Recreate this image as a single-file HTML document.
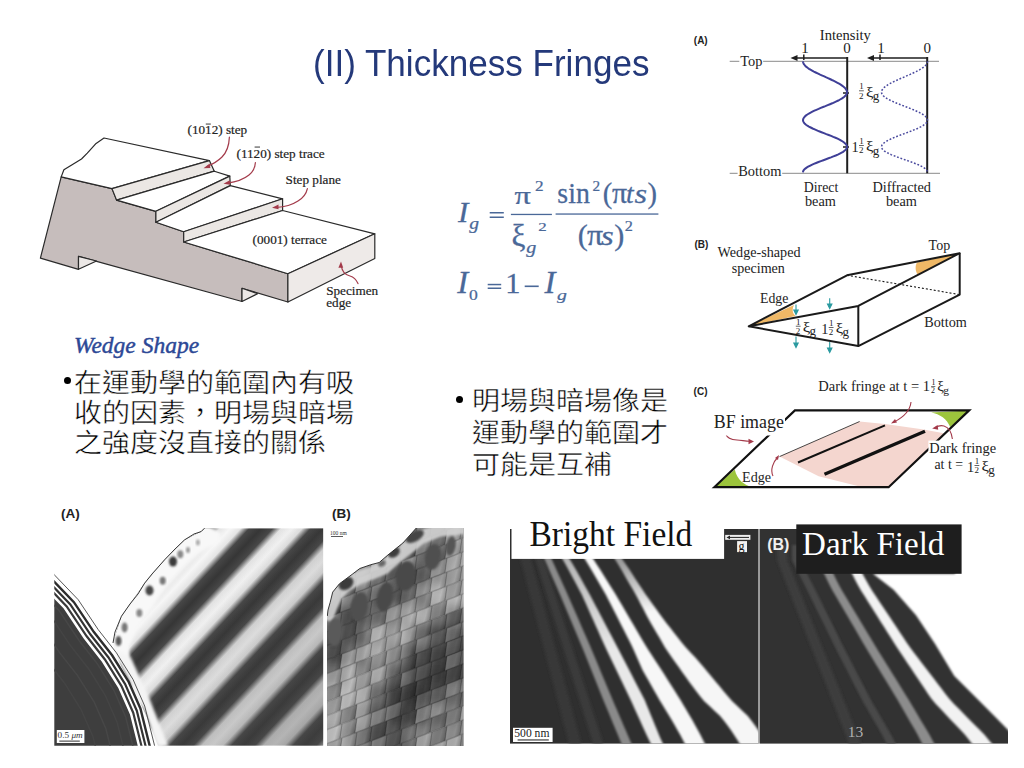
<!DOCTYPE html>
<html lang="zh-TW">
<head>
<meta charset="utf-8">
<style>
html,body{margin:0;padding:0;background:#fff;}
body{width:1024px;height:768px;overflow:hidden;position:relative;font-family:"Liberation Serif",serif;}
svg{position:absolute;left:0;top:0;}
.t{position:absolute;white-space:nowrap;line-height:1;}
.title{font-family:"Liberation Sans",sans-serif;color:#24397a;font-size:36px;}
.cjk{font-size:28px;color:#000;-webkit-text-stroke:0.5px #fff;transform:translateY(2.7px) scaleY(0.92);}
</style>
</head>
<body>
<svg width="1024" height="768" viewBox="0 0 1024 768" font-family="Liberation Serif">
<!-- ===== Stepped specimen figure ===== -->
<g id="steps" stroke="#2a2a2a" stroke-width="1.2" stroke-linejoin="round">
  <!-- gray front face -->
  <path fill="#c6bdbc" d="M61.2,176.9 L112,188.6 L116.6,200.1 L155.9,211.3 L155.9,222.3 L183.7,231.8 L183.7,242 L287.9,273.7 L287.9,302 L242,288.3 L242,301.5 L78.5,256.4 L78.5,269.3 L40.4,258.1 Z"/>
  <!-- notches light -->
  <path fill="#ece8e6" d="M78.5,256.4 L78.5,269.3 L96.5,261 Z"/>
  <path fill="#ece8e6" d="M242,288.3 L242,301.5 L257.6,293.7 Z"/>
  <!-- top surface -->
  <path fill="#fff" d="M61.2,176.9 L63.9,169.8 L71.7,164.9 L81.5,159 L87.3,153.2 L96.1,143.4 L104,138 L209.4,160.6 L112,188.6 Z"/>
  <!-- step 1 band -->
  <path fill="#ebe7e4" d="M112,188.6 L209.4,160.6 L214.3,171.2 L116.6,200.1 Z"/>
  <!-- terrace 2 -->
  <path fill="#fff" d="M116.6,200.1 L214.3,171.2 L229.8,176.1 L155.9,211.3 Z"/>
  <!-- step 2 band -->
  <path fill="#ebe7e4" d="M155.9,211.3 L229.8,176.1 L230.3,185.6 L155.9,222.3 Z"/>
  <!-- terrace 3 -->
  <path fill="#fff" d="M155.9,222.3 L230.3,185.6 L282.6,198.8 L183.7,231.8 Z"/>
  <!-- step 3 band -->
  <path fill="#ebe7e4" d="M183.7,231.8 L282.6,198.8 L282.6,210.5 L183.7,242 Z"/>
  <!-- terrace 4 -->
  <path fill="#fff" d="M183.7,242 L282.6,210.5 L374.8,233.8 L287.9,273.7 Z"/>
  <!-- right face -->
  <path fill="#eeeae8" d="M287.9,273.7 L374.8,233.8 L374.8,258.5 L287.9,302 Z"/>
</g>
<g fill="none" stroke="#a33a4a" stroke-width="1.2" stroke-linecap="round">
  <path d="M229.4,137.1 C229,146 227,152 222,157 C218,161 213,164 207,166.5"/>
  <path d="M255.4,162.5 C255,168 253,172 249,175 C244,179 236,182 227.5,183.2"/>
  <path d="M307.4,188.6 C306,195 303,198 298,201 C292,205 284,207 276,207.5"/>
  <path d="M358,283.6 C356,279 354,277 350,276 C345,275 342,271 341.2,265.5"/>
</g>
<g fill="#a33a4a">
  <path d="M203.5,168.2 l6.2,-4.6 l0.6,4.4 z"/>
  <path d="M223.5,183.8 l6.3,-3.6 l0.3,4.6 z"/>
  <path d="M272,207.8 l6.5,-3.2 l0,4.6 z"/>
  <path d="M341,261.5 l-2.6,6.2 l4.8,0 z"/>
</g>
<g font-size="13.2" fill="#222" stroke="#222" stroke-width="0.2">
  <text x="187.5" y="134">(1012) step</text><rect x="205.8" y="123.6" width="5" height="0.9" stroke="none"/>
  <text x="236.5" y="157.5">(1120) step trace</text><rect x="254.6" y="146.6" width="5.4" height="0.9" stroke="none"/>
  <text x="285.6" y="183.5">Step plane</text>
  <text x="252.6" y="243.5">(0001) terrace</text>
  <text x="326.2" y="294.7">Specimen</text>
  <text x="326.2" y="307">edge</text>
</g>

<!-- ===== Equation ===== -->
<g fill="#4a6898" stroke="#4a6898" stroke-width="0.25">
<text transform="matrix(1.1143 0 0 1.0466 457.90 221.90)" font-family="Liberation Serif" font-size="28" font-style="italic">I</text>
<text transform="matrix(1.1500 0 0 0.9532 469.20 229.03)" font-family="Liberation Serif" font-size="17" font-style="italic">g</text>
<text transform="matrix(1.2517 0 0 0.9834 514.46 203.53)" font-family="Liberation Serif" font-size="26">&#960;</text>
<text transform="matrix(1.0769 0 0 0.9333 535.09 190.80)" font-family="Liberation Serif" font-size="16">2</text>
<text transform="matrix(1.1143 0 0 1.1306 511.61 245.95)" font-family="Liberation Serif" font-size="28">&#958;</text>
<text transform="matrix(1.1820 0 0 0.9287 526.37 252.52)" font-family="Liberation Serif" font-size="17" font-style="italic">g</text>
<text transform="matrix(1.0564 0 0 0.8300 538.37 230.91)" font-family="Liberation Serif" font-size="16">2</text>
<text transform="matrix(1.0300 0 0 1.0889 557.37 203.33)" font-family="Liberation Serif" font-size="27">sin</text>
<text transform="matrix(0.9538 0 0 0.9714 592.48 190.70)" font-family="Liberation Serif" font-size="16">2</text>
<text transform="matrix(1.0583 0 0 1.0583 602.82 203.48)" font-family="Liberation Serif" font-size="27">(</text>
<text transform="matrix(1.1520 0 0 1.1184 612.11 203.32)" font-family="Liberation Serif" font-size="26">&#960;</text>
<text transform="matrix(1.0615 0 0 1.0800 626.07 203.33)" font-family="Liberation Serif" font-size="26" font-style="italic">t</text>
<text transform="matrix(1.2444 0 0 1.0480 634.59 203.34)" font-family="Liberation Serif" font-size="26" font-style="italic">s</text>
<text transform="matrix(1.0583 0 0 1.0583 647.55 203.48)" font-family="Liberation Serif" font-size="27">)</text>
<text transform="matrix(1.1208 0 0 1.1208 577.68 244.64)" font-family="Liberation Serif" font-size="27">(</text>
<text transform="matrix(1.2240 0 0 1.1020 586.89 244.62)" font-family="Liberation Serif" font-size="26">&#960;</text>
<text transform="matrix(1.2556 0 0 1.0800 600.89 244.63)" font-family="Liberation Serif" font-size="26" font-style="italic">s</text>
<text transform="matrix(1.1208 0 0 1.1208 614.29 244.64)" font-family="Liberation Serif" font-size="27">)</text>
<text transform="matrix(1.0154 0 0 0.9619 624.84 231.10)" font-family="Liberation Serif" font-size="16">2</text>
<text transform="matrix(1.1714 0 0 1.0904 457.30 293.10)" font-family="Liberation Serif" font-size="28" font-style="italic">I</text>
<text transform="matrix(1.0365 0 0 0.8144 468.99 299.68)" font-family="Liberation Serif" font-size="17">0</text>
<text transform="matrix(1.1211 0 0 1.1211 505.21 293.10)" font-family="Liberation Serif" font-size="27">1</text>
<text transform="matrix(1.1714 0 0 1.0904 544.60 293.10)" font-family="Liberation Serif" font-size="28" font-style="italic">I</text>
<text transform="matrix(1.1632 0 0 0.9139 556.95 299.74)" font-family="Liberation Serif" font-size="17" font-style="italic">g</text>

</g>
<g fill="#4a6898">
  <rect x="489.7" y="212" width="14.1" height="1.5"/>
  <rect x="489.7" y="216.5" width="14.1" height="1.5"/>
  <rect x="510.9" y="213.8" width="41" height="1.3"/>
  <rect x="555.6" y="213.4" width="102.8" height="1.3"/>
  <rect x="487.7" y="283.8" width="13.5" height="1.5"/>
  <rect x="487.7" y="287.5" width="13.5" height="1.5"/>
  <rect x="524.7" y="285.5" width="14" height="1.6"/>
</g>

<!-- ===== Fig A intensity ===== -->
<g stroke="#8a8a8a" stroke-width="1" fill="none">
  <line x1="729.7" y1="61.3" x2="939" y2="61.3"/>
  <line x1="729.7" y1="173.3" x2="940" y2="173.3"/>
</g>
<rect x="739.3" y="54" width="23.8" height="15" fill="#fff"/>
<rect x="737.6" y="164" width="44.6" height="13" fill="#fff"/>
<g font-family="Liberation Serif" fill="#222">
  <text x="693.8" y="44" font-size="10" font-weight="bold" font-family="Liberation Sans">(A)</text>
  <text x="819.8" y="39.7" font-size="14.6">Intensity</text>
  <text x="801.2" y="53" font-size="15">1</text>
  <text x="843.2" y="53" font-size="15">0</text>
  <text x="877.2" y="53" font-size="15">1</text>
  <text x="923.6" y="53" font-size="15">0</text>
  <text x="740.2" y="65.6" font-size="14.4">Top</text>
  <text x="738.2" y="176" font-size="14.4">Bottom</text>
  <text x="803.8" y="191.8" font-size="13.8">Direct</text>
  <text x="804.9" y="206.1" font-size="14.3">beam</text>
  <text x="872.5" y="191.8" font-size="14.3">Diffracted</text>
  <text x="885.9" y="206.1" font-size="14.3">beam</text>
</g>
<g stroke="#1e1e1e" stroke-width="2" fill="none">
  <line x1="847.2" y1="57" x2="847.2" y2="173.3"/>
  <line x1="927.2" y1="57" x2="927.2" y2="173.3"/>
</g>
<g stroke="#1e1e1e" stroke-width="1.5" fill="none">
  <line x1="795" y1="58" x2="847.2" y2="58"/>
  <line x1="872" y1="58" x2="927.2" y2="58"/>
  <line x1="803.8" y1="54.5" x2="803.8" y2="60"/>
  <line x1="880" y1="54.5" x2="880" y2="60"/>
  <line x1="843" y1="93" x2="849" y2="93"/>
  <line x1="843" y1="147" x2="849" y2="147"/>
</g>
<g fill="#1e1e1e">
  <path d="M790.5,58 l7,-3 l0,6 z"/>
  <path d="M867,58 l7,-3 l0,6 z"/>
</g>
<path id="dcurve" fill="none" stroke="#3f3f97" stroke-width="2" d="M803.0,61.3 L803.1,62.2 L803.4,63.2 L803.9,64.1 L804.6,65.0 L805.4,66.0 L806.4,66.9 L807.6,67.8 L809.0,68.8 L810.5,69.7 L812.1,70.6 L813.9,71.6 L815.7,72.5 L817.6,73.4 L819.6,74.4 L821.7,75.3 L823.7,76.2 L825.8,77.2 L827.9,78.1 L829.9,79.0 L831.9,80.0 L833.9,80.9 L835.7,81.8 L837.5,82.8 L839.1,83.7 L840.7,84.6 L842.1,85.6 L843.3,86.5 L844.4,87.4 L845.3,88.4 L846.0,89.3 L846.5,90.2 L846.9,91.1 L847.0,92.1 L846.9,93.0 L846.6,93.9 L846.1,94.9 L845.3,95.8 L844.3,96.7 L843.1,97.7 L841.7,98.6 L840.1,99.5 L838.3,100.5 L836.4,101.4 L834.4,102.3 L832.2,103.3 L830.0,104.2 L827.7,105.1 L825.4,106.1 L823.1,107.0 L820.8,107.9 L818.6,108.9 L816.4,109.8 L814.4,110.7 L812.4,111.7 L810.6,112.6 L808.9,113.5 L807.4,114.5 L806.1,115.4 L805.1,116.3 L804.2,117.3 L803.6,118.2 L803.2,119.1 L803.0,120.1 L803.1,121.0 L803.5,121.9 L804.1,122.9 L804.9,123.8 L806.0,124.7 L807.4,125.7 L808.9,126.6 L810.7,127.5 L812.6,128.5 L814.7,129.4 L816.9,130.3 L819.1,131.3 L821.5,132.2 L823.9,133.1 L826.3,134.1 L828.7,135.0 L831.1,135.9 L833.3,136.9 L835.5,137.8 L837.6,138.7 L839.5,139.7 L841.2,140.6 L842.7,141.5 L844.1,142.5 L845.1,143.4 L846.0,144.3 L846.6,145.2 L846.9,146.2 L847.0,147.1 L846.8,148.0 L846.3,149.0 L845.5,149.9 L844.4,150.8 L843.1,151.8 L841.6,152.7 L839.8,153.6 L837.8,154.6 L835.7,155.5 L833.4,156.4 L831.0,157.4 L828.5,158.3 L826.0,159.2 L823.4,160.2 L820.9,161.1 L818.5,162.0 L816.1,163.0 L813.8,163.9 L811.7,164.8 L809.8,165.8 L808.1,166.7 L806.6,167.6 L805.3,168.6 L804.3,169.5 L803.6,170.4 L803.1,171.4 L803.0,172.3"/>
<path id="fcurve" fill="none" stroke="#4a4a9e" stroke-width="1.5" stroke-dasharray="1.8 1.8" d="M927.5,61.3 L927.4,62.2 L927.1,63.2 L926.6,64.1 L925.9,65.0 L925.0,66.0 L923.9,66.9 L922.6,67.8 L921.2,68.8 L919.7,69.7 L918.0,70.6 L916.1,71.6 L914.2,72.5 L912.2,73.4 L910.1,74.4 L908.0,75.3 L905.8,76.2 L903.7,77.2 L901.5,78.1 L899.4,79.0 L897.3,80.0 L895.2,80.9 L893.3,81.8 L891.4,82.8 L889.7,83.7 L888.1,84.6 L886.7,85.6 L885.4,86.5 L884.3,87.4 L883.3,88.4 L882.6,89.3 L882.0,90.2 L881.7,91.1 L881.5,92.1 L881.6,93.0 L881.9,93.9 L882.5,94.9 L883.3,95.8 L884.3,96.7 L885.6,97.7 L887.1,98.6 L888.7,99.5 L890.6,100.5 L892.6,101.4 L894.7,102.3 L896.9,103.3 L899.3,104.2 L901.6,105.1 L904.0,106.1 L906.5,107.0 L908.8,107.9 L911.2,108.9 L913.5,109.8 L915.6,110.7 L917.7,111.7 L919.6,112.6 L921.3,113.5 L922.9,114.5 L924.2,115.4 L925.4,116.3 L926.3,117.3 L926.9,118.2 L927.3,119.1 L927.5,120.1 L927.4,121.0 L927.0,121.9 L926.4,122.9 L925.5,123.8 L924.3,124.7 L922.9,125.7 L921.3,126.6 L919.5,127.5 L917.5,128.5 L915.3,129.4 L913.0,130.3 L910.6,131.3 L908.2,132.2 L905.7,133.1 L903.1,134.1 L900.6,135.0 L898.2,135.9 L895.8,136.9 L893.5,137.8 L891.4,138.7 L889.4,139.7 L887.6,140.6 L886.0,141.5 L884.6,142.5 L883.4,143.4 L882.6,144.3 L881.9,145.2 L881.6,146.2 L881.5,147.1 L881.7,148.0 L882.3,149.0 L883.1,149.9 L884.2,150.8 L885.6,151.8 L887.2,152.7 L889.0,153.6 L891.1,154.6 L893.4,155.5 L895.7,156.4 L898.3,157.4 L900.8,158.3 L903.5,159.2 L906.1,160.2 L908.8,161.1 L911.3,162.0 L913.8,163.0 L916.2,163.9 L918.4,164.8 L920.4,165.8 L922.2,166.7 L923.8,167.6 L925.1,168.6 L926.1,169.5 L926.9,170.4 L927.3,171.4 L927.5,172.3"/>
<g font-family="Liberation Serif" fill="#222">
<g id="lblhalf">
  <text x="859.3" y="89.4" font-size="9">1</text><rect x="859" y="90.5" width="4.8" height="0.7"/><text x="859" y="98.6" font-size="9">2</text>
  <text transform="matrix(1.2182 0 0 1.1102 865.99 96.52)" font-size="14">&#958;</text>
  <text transform="matrix(1.0857 0 0 1.0471 872.76 99.78)" font-size="12">g</text>
</g>
<g id="lbl1half">
  <text transform="matrix(1.1059 0 0 1.1059 851.48 151.90)" font-size="13">1</text>
  <text x="859.3" y="144.2" font-size="9">1</text><rect x="859" y="145.3" width="4.8" height="0.7"/><text x="859" y="153.2" font-size="9">2</text>
  <text transform="matrix(1.2033 0 0 1.0 866.04 151.2)" font-size="14">&#958;</text>
  <text transform="matrix(1.0857 0 0 1.0 872.76 154.64)" font-size="12">g</text>
</g>
</g>

<!-- ===== Fig B wedge ===== -->
<g font-family="Liberation Serif" fill="#222">
  <text x="694.5" y="247.5" font-size="10" font-weight="bold" font-family="Liberation Sans">(B)</text>
  <text x="717.6" y="257" font-size="14.15">Wedge-shaped</text>
  <text x="731.7" y="272.5" font-size="14.1">specimen</text>
  <text x="928.6" y="250" font-size="14">Top</text>
  <text x="760" y="302.5" font-size="13.8">Edge</text>
  <text x="924.3" y="326.5" font-size="14.2">Bottom</text>
</g>
<g fill="#efb866">
  <path d="M748.7,326.3 L794,305 C792,309 792,313 795.5,316 Z"/>
  <path d="M959.7,253.2 L917,262.5 C915,266 915,271 918,275 Z"/>
</g>
<g stroke="#1a1a1a" stroke-width="2" fill="none" stroke-linejoin="round">
  <path d="M748.7,326.3 L847,275.3 L959.7,253.2 L858.3,305.9 Z"/>
  <path d="M748.7,326.3 L858.3,346.1 L959.7,294.6 L959.7,253.2"/>
  <line x1="858.3" y1="305.9" x2="858.3" y2="346.1"/>
</g>
<line x1="847" y1="275.3" x2="959.7" y2="294.6" stroke="#1a1a1a" stroke-width="1.1" stroke-dasharray="2 2"/>
<g stroke="#2a9aa0" stroke-width="1.1" fill="#2a9aa0">
  <line x1="796" y1="304.6" x2="796" y2="311"/><path d="M793.8,310 l2.2,4.6 l2.2,-4.6 z"/>
  <line x1="796" y1="336.5" x2="796" y2="344"/><path d="M793.8,343 l2.2,4.6 l2.2,-4.6 z"/>
  <line x1="829.7" y1="298.2" x2="829.7" y2="305"/><path d="M827.5,304 l2.2,4.6 l2.2,-4.6 z"/>
  <line x1="829.7" y1="341.9" x2="829.7" y2="349"/><path d="M827.5,348 l2.2,4.6 l2.2,-4.6 z"/>
</g>
<g font-family="Liberation Serif" fill="#222">
  <use href="#lblhalf" transform="translate(-63.2 235.3)"/>
  <use href="#lbl1half" transform="translate(-30.3 181.7)"/>
</g>

<!-- ===== Fig C ===== -->
<g fill="#f4d6cf">
  <path d="M779.5,456.6 L859.6,421.5 L885,424 L922,429.3 L944,433.2 L930,449 L912,466 L888,487 L857.7,486 L818.6,476.2 Z"/>
</g>
<g fill="#9cc43c">
  <path d="M714.3,487.2 L734.8,469.6 C737,480 744,485 752.4,487.2 Z"/>
  <path d="M931.1,412.5 L969.2,410.4 L950.2,427.1 C947,419 940,414 931.1,412.5 Z"/>
</g>
<path d="M714.3,487.2 L794.9,410.4 L969.2,410.4 L888.6,487.2 Z" fill="none" stroke="#111" stroke-width="2.2" stroke-linejoin="miter"/>
<line x1="779.5" y1="456.6" x2="859.6" y2="421.5" stroke="#333" stroke-width="0.9"/>
<line x1="798" y1="462.5" x2="885" y2="425.4" stroke="#111" stroke-width="2"/>
<line x1="824.5" y1="474.2" x2="925" y2="431.3" stroke="#111" stroke-width="3.4"/>
<g fill="none" stroke="#a33a4a" stroke-width="1.1">
  <path d="M726,434.3 C727,438 731,439.5 737,440 C742,440.5 746,441 749.5,441.3"/>
  <path d="M911,402 C910,412 902,418 894,422"/>
  <path d="M952.4,439 C951.5,432 949,427.5 944,426 C940,425 937.5,426.2 935.5,427.4"/>
  <path d="M773,476 C770,470 773,462 778,457"/>
</g>
<g fill="#a33a4a">
  <path d="M754,441.6 l-5.5,-2.8 l0,5.4 z"/>
  <path d="M891,423.5 l4,-4.5 l2,3.5 z"/>
  <path d="M932.2,428.6 l5.4,-3.6 l0.6,4.8 z"/>
  <path d="M779,455 l-4,3 l3,2 z"/>
</g>
<g font-family="Liberation Serif" fill="#222">
  <text x="693.6" y="394.8" font-size="10" font-weight="bold" font-family="Liberation Sans">(C)</text>
  <text x="818.3" y="390.6" font-size="14.5">Dark fringe at t = 1</text>
  <use href="#lblhalf" transform="translate(931.3 393.9) scale(0.88) translate(-859.2 -99.3)"/>
  <rect x="712" y="413" width="73" height="22.5" fill="#fff"/>
  <text x="713.8" y="428" font-size="17.9">BF image</text>
  <text x="742.1" y="482" font-size="14.1">Edge</text>
  <rect x="928.4" y="440.6" width="70" height="39" fill="#fff"/>
  <text x="929.3" y="453.1" font-size="14.4">Dark fringe</text>
  <text x="934.5" y="469.4" font-size="13.8">at t =</text>
  <use href="#lbl1half" transform="translate(115.5 319.8)"/>
</g>
<!-- ===== Micrographs ===== -->
<clipPath id="cbf"><rect x="510" y="529" width="248.5" height="214.6"/></clipPath>
<clipPath id="cdfbg"><path d="M760,529 L961.6,529 L961.6,573.8 L872.9,573.8 L893.6,589.8 L916,615.3 L935.1,644 L954.3,676 L973.4,695.1 L992.6,714.3 L1008,730.5 L1008,743 L760,743 Z"/></clipPath>
<clipPath id="cdf"><rect x="760" y="529" width="248" height="214.6"/></clipPath>
<filter id="bl1" x="-20%" y="-20%" width="140%" height="140%"><feGaussianBlur stdDeviation="0.9"/></filter>
<filter id="bl2" x="-20%" y="-20%" width="140%" height="140%"><feGaussianBlur stdDeviation="1.8"/></filter>
<rect x="510" y="529" width="248.5" height="214.6" fill="#2f2f2f"/>
<g clip-path="url(#cbf)">
<linearGradient id="gs1" gradientUnits="userSpaceOnUse" x1="0" y1="560" x2="0" y2="650"><stop offset="0" stop-color="#b4b4b4"/><stop offset="1" stop-color="#e8e8e8"/></linearGradient>
<linearGradient id="gs3" gradientUnits="userSpaceOnUse" x1="0" y1="562" x2="0" y2="612"><stop offset="0" stop-color="#9c9c9c"/><stop offset="0.5" stop-color="#c8c8c8"/><stop offset="1" stop-color="#f6f6f6"/></linearGradient>
<path filter="url(#bl2)" fill="#393939" d="M517.0,545.0 L518.3,550.1 L519.7,555.3 L521.0,560.4 L522.4,565.5 L523.7,570.6 L525.1,575.8 L526.4,580.9 L527.8,586.0 L529.1,591.2 L530.5,596.3 L531.8,601.4 L533.2,606.5 L534.5,611.7 L535.9,616.8 L537.2,621.9 L538.5,627.1 L539.9,632.2 L541.2,637.3 L542.6,642.4 L543.9,647.6 L545.3,652.7 L546.6,657.8 L548.0,662.9 L549.3,668.1 L550.7,673.2 L552.0,678.3 L553.4,683.5 L554.7,688.6 L556.1,693.7 L557.4,698.8 L558.8,704.0 L560.1,709.1 L561.4,714.2 L562.8,719.4 L564.1,724.5 L565.5,729.6 L566.8,734.7 L568.2,739.9 L569.0,745.0 L581.0,745.0 L580.1,739.9 L578.7,734.7 L577.3,729.6 L576.0,724.5 L574.6,719.4 L573.2,714.2 L571.8,709.1 L570.4,704.0 L569.0,698.8 L567.6,693.7 L566.2,688.6 L564.8,683.5 L563.4,678.3 L562.0,673.2 L560.6,668.1 L559.2,662.9 L557.8,657.8 L556.4,652.7 L555.0,647.6 L553.6,642.4 L552.2,637.3 L550.8,632.2 L549.4,627.1 L548.0,621.9 L546.6,616.8 L545.2,611.7 L543.8,606.5 L542.4,601.4 L541.0,596.3 L539.6,591.2 L538.2,586.0 L536.8,580.9 L535.4,575.8 L534.0,570.6 L532.6,565.5 L531.2,560.4 L529.8,555.3 L528.4,550.1 L527.0,545.0 Z"/>
<path filter="url(#bl2)" fill="#3b3b3b" d="M531.0,545.0 L532.6,550.1 L534.2,555.3 L535.8,560.4 L537.4,565.5 L539.0,570.6 L540.6,575.8 L542.2,580.9 L543.8,586.0 L545.5,591.2 L547.1,596.3 L548.7,601.4 L550.3,606.5 L551.9,611.7 L553.5,616.8 L555.1,621.9 L556.7,627.1 L558.3,632.2 L559.9,637.3 L561.5,642.4 L563.1,647.6 L564.7,652.7 L566.3,657.8 L567.9,662.9 L569.5,668.1 L571.1,673.2 L572.8,678.3 L574.4,683.5 L576.0,688.6 L577.6,693.7 L579.2,698.8 L580.8,704.0 L582.4,709.1 L584.0,714.2 L585.6,719.4 L587.2,724.5 L588.8,729.6 L590.4,734.7 L592.0,739.9 L593.0,745.0 L603.0,745.0 L602.0,739.9 L600.3,734.7 L598.7,729.6 L597.0,724.5 L595.4,719.4 L593.7,714.2 L592.0,709.1 L590.4,704.0 L588.7,698.8 L587.1,693.7 L585.4,688.6 L583.8,683.5 L582.1,678.3 L580.4,673.2 L578.8,668.1 L577.1,662.9 L575.5,657.8 L573.8,652.7 L572.2,647.6 L570.5,642.4 L568.8,637.3 L567.2,632.2 L565.5,627.1 L563.9,621.9 L562.2,616.8 L560.5,611.7 L558.9,606.5 L557.2,601.4 L555.6,596.3 L553.9,591.2 L552.3,586.0 L550.6,580.9 L548.9,575.8 L547.3,570.6 L545.6,565.5 L544.0,560.4 L542.3,555.3 L540.7,550.1 L539.0,545.0 Z"/>
<path filter="url(#bl1)" fill="#8a8a8a" d="M540.5,550.0 L542.7,555.0 L544.9,560.0 L547.1,565.0 L549.2,570.0 L551.4,575.0 L553.6,580.0 L555.8,585.0 L558.0,590.0 L560.2,595.0 L562.3,600.0 L564.4,605.0 L566.5,610.0 L568.6,615.0 L570.7,620.0 L572.8,625.0 L574.9,630.0 L577.0,635.0 L579.1,640.0 L581.2,645.0 L583.3,650.0 L585.3,655.0 L587.3,660.0 L589.3,665.0 L591.3,670.0 L593.3,675.0 L595.3,680.0 L597.3,685.0 L599.3,690.0 L601.3,695.0 L603.3,700.0 L605.4,705.0 L607.5,710.0 L609.6,715.0 L611.6,720.0 L613.7,725.0 L615.8,730.0 L617.9,735.0 L619.9,740.0 L622.0,745.0 L632.0,745.0 L629.9,740.0 L627.7,735.0 L625.6,730.0 L623.4,725.0 L621.3,720.0 L619.1,715.0 L617.0,710.0 L614.8,705.0 L612.7,700.0 L610.6,695.0 L608.5,690.0 L606.4,685.0 L604.3,680.0 L602.2,675.0 L600.1,670.0 L598.1,665.0 L596.0,660.0 L593.9,655.0 L591.8,650.0 L589.7,645.0 L587.5,640.0 L585.3,635.0 L583.1,630.0 L580.9,625.0 L578.8,620.0 L576.6,615.0 L574.4,610.0 L572.2,605.0 L570.0,600.0 L567.8,595.0 L565.6,590.0 L563.3,585.0 L561.1,580.0 L558.8,575.0 L556.5,570.0 L554.3,565.0 L552.0,560.0 L549.8,555.0 L547.5,550.0 Z"/>
<path filter="url(#bl1)" fill="url(#gs1)" d="M557.5,550.0 L560.2,555.0 L563.0,560.0 L565.9,565.0 L568.6,570.0 L571.3,575.0 L574.0,580.0 L576.7,585.0 L579.3,590.0 L582.0,595.0 L584.2,600.0 L586.5,605.0 L588.7,610.0 L590.9,615.0 L593.2,620.0 L595.4,625.0 L597.7,630.0 L599.9,635.0 L602.1,640.0 L604.4,645.0 L606.7,650.0 L609.1,655.0 L611.5,660.0 L613.9,665.0 L616.3,670.0 L618.7,675.0 L621.1,680.0 L623.5,685.0 L625.9,690.0 L628.3,695.0 L630.7,700.0 L633.0,705.0 L635.2,710.0 L637.5,715.0 L639.8,720.0 L642.0,725.0 L644.3,730.0 L646.6,735.0 L649.0,740.0 L651.5,745.0 L663.5,745.0 L661.2,740.0 L659.0,735.0 L657.0,730.0 L654.9,725.0 L652.9,720.0 L650.8,715.0 L648.8,710.0 L646.7,705.0 L644.7,700.0 L642.1,695.0 L639.5,690.0 L636.9,685.0 L634.3,680.0 L631.8,675.0 L629.2,670.0 L626.6,665.0 L624.0,660.0 L621.4,655.0 L618.8,650.0 L616.2,645.0 L613.6,640.0 L611.0,635.0 L608.3,630.0 L605.7,625.0 L603.1,620.0 L600.5,615.0 L597.9,610.0 L595.2,605.0 L592.6,600.0 L590.0,595.0 L587.2,590.0 L584.4,585.0 L581.7,580.0 L578.9,575.0 L576.1,570.0 L573.2,565.0 L570.2,560.0 L567.3,555.0 L564.5,550.0 Z"/>
<path filter="url(#bl1)" fill="#f7f7f7" d="M580.0,550.0 L582.7,555.0 L585.4,560.0 L588.5,565.0 L591.5,570.0 L594.4,575.0 L597.3,580.0 L600.2,585.0 L603.1,590.0 L606.0,595.0 L608.5,600.0 L611.1,605.0 L613.6,610.0 L616.2,615.0 L618.7,620.0 L621.2,625.0 L623.8,630.0 L626.3,635.0 L628.9,640.0 L631.4,645.0 L633.7,650.0 L635.9,655.0 L638.1,660.0 L640.3,665.0 L642.5,670.0 L645.3,675.0 L648.2,680.0 L651.0,685.0 L653.8,690.0 L656.7,695.0 L659.5,700.0 L662.6,705.0 L665.6,710.0 L668.7,715.0 L671.7,720.0 L674.6,725.0 L677.4,730.0 L680.3,735.0 L682.9,740.0 L685.5,745.0 L705.5,745.0 L703.0,740.0 L700.5,735.0 L697.8,730.0 L695.0,725.0 L692.3,720.0 L689.3,715.0 L686.4,710.0 L683.4,705.0 L680.5,700.0 L677.3,695.0 L674.2,690.0 L671.0,685.0 L667.8,680.0 L664.7,675.0 L661.5,670.0 L658.2,665.0 L654.9,660.0 L651.7,655.0 L648.4,650.0 L645.3,645.0 L642.3,640.0 L639.4,635.0 L636.5,630.0 L633.6,625.0 L630.6,620.0 L627.7,615.0 L624.8,610.0 L621.9,605.0 L618.9,600.0 L616.0,595.0 L612.9,590.0 L609.7,585.0 L606.6,580.0 L603.5,575.0 L600.4,570.0 L597.1,565.0 L593.9,560.0 L590.9,555.0 L588.0,550.0 Z"/>
<path filter="url(#bl1)" fill="url(#gs3)" d="M612.5,555.0 L615.4,559.9 L618.4,564.7 L621.3,569.6 L624.1,574.5 L626.9,579.4 L629.7,584.2 L632.6,589.1 L635.4,594.0 L638.0,598.8 L640.5,603.7 L643.1,608.6 L645.6,613.5 L648.1,618.3 L650.9,623.2 L653.7,628.1 L656.6,632.9 L659.5,637.8 L662.3,642.7 L665.0,647.6 L668.4,652.4 L671.7,657.3 L675.2,662.2 L678.7,667.1 L682.1,671.9 L685.6,676.8 L689.1,681.7 L692.7,686.5 L696.4,691.4 L700.1,696.3 L704.2,701.2 L709.5,706.0 L714.7,710.9 L719.9,715.8 L723.8,720.6 L727.6,725.5 L731.2,730.4 L734.3,735.3 L737.4,740.1 L740.5,745.0 L767.5,745.0 L764.5,740.1 L761.5,735.3 L758.5,730.4 L755.0,725.5 L751.3,720.6 L747.6,715.8 L742.5,710.9 L737.3,706.0 L732.2,701.2 L727.9,696.3 L723.8,691.4 L719.8,686.5 L715.7,681.7 L711.6,676.8 L707.6,671.9 L703.5,667.1 L699.4,662.2 L695.1,657.3 L690.5,652.4 L685.9,647.6 L681.9,642.7 L678.0,637.8 L674.2,632.9 L670.4,628.1 L666.5,623.2 L662.8,618.3 L659.3,613.5 L655.8,608.6 L652.3,603.7 L648.8,598.8 L645.3,594.0 L642.1,589.1 L638.9,584.2 L635.7,579.4 L632.6,574.5 L629.4,569.6 L626.1,564.7 L622.8,559.9 L619.5,555.0 Z"/>
</g>
<rect x="511.5" y="526" width="212.6" height="32.9" fill="#fff"/>
<rect x="758.5" y="529" width="1.5" height="214.6" fill="#9a9a9a"/>
<rect x="760" y="529" width="248" height="214.6" fill="#323232"/>
<g clip-path="url(#cdf)">
<path filter="url(#bl2)" fill="#3c3c3c" d="M777.0,545.0 L777.0,550.1 L777.0,555.3 L777.2,560.4 L779.2,565.5 L781.2,570.6 L783.2,575.8 L785.2,580.9 L787.2,586.0 L789.3,591.2 L791.3,596.3 L793.3,601.4 L795.3,606.5 L797.3,611.7 L799.3,616.8 L801.4,621.9 L803.4,627.1 L805.4,632.2 L807.4,637.3 L809.4,642.4 L811.5,647.6 L813.5,652.7 L815.5,657.8 L817.5,662.9 L819.5,668.1 L821.5,673.2 L823.6,678.3 L825.6,683.5 L827.6,688.6 L829.6,693.7 L831.6,698.8 L833.6,704.0 L835.7,709.1 L837.7,714.2 L839.7,719.4 L841.7,724.5 L843.7,729.6 L845.8,734.7 L847.8,739.9 L849.0,745.0 L861.0,745.0 L859.7,739.9 L857.7,734.7 L855.6,729.6 L853.5,724.5 L851.4,719.4 L849.4,714.2 L847.3,709.1 L845.2,704.0 L843.1,698.8 L841.1,693.7 L839.0,688.6 L836.9,683.5 L834.9,678.3 L832.8,673.2 L830.7,668.1 L828.6,662.9 L826.6,657.8 L824.5,652.7 L822.4,647.6 L820.3,642.4 L818.3,637.3 L816.2,632.2 L814.1,627.1 L812.0,621.9 L810.0,616.8 L807.9,611.7 L805.8,606.5 L803.7,601.4 L801.7,596.3 L799.6,591.2 L797.5,586.0 L795.5,580.9 L793.4,575.8 L791.3,570.6 L789.2,565.5 L787.2,560.4 L787.0,555.3 L787.0,550.1 L787.0,545.0 Z"/>
<path filter="url(#bl1)" fill="#4a4a4a" d="M792.0,545.0 L792.0,550.1 L792.0,555.3 L792.2,560.4 L794.8,565.5 L797.4,570.6 L800.0,575.8 L802.6,580.9 L805.2,586.0 L807.7,591.2 L810.2,596.3 L812.7,601.4 L815.2,606.5 L817.7,611.7 L820.2,616.8 L822.8,621.9 L825.3,627.1 L827.8,632.2 L830.3,637.3 L832.8,642.4 L835.3,647.6 L837.9,652.7 L840.5,657.8 L843.2,662.9 L845.8,668.1 L848.4,673.2 L851.0,678.3 L853.6,683.5 L856.2,688.6 L858.9,693.7 L861.5,698.8 L864.3,704.0 L867.3,709.1 L870.2,714.2 L873.2,719.4 L876.2,724.5 L879.1,729.6 L882.1,734.7 L884.8,739.9 L887.5,745.0 L896.5,745.0 L893.8,739.9 L891.0,734.7 L888.0,729.6 L885.1,724.5 L882.1,719.4 L879.1,714.2 L876.1,709.1 L873.1,704.0 L870.2,698.8 L867.6,693.7 L864.9,688.6 L862.3,683.5 L859.6,678.3 L857.0,673.2 L854.4,668.1 L851.7,662.9 L849.1,657.8 L846.4,652.7 L843.8,647.6 L841.2,642.4 L838.7,637.3 L836.2,632.2 L833.6,627.1 L831.1,621.9 L828.6,616.8 L826.0,611.7 L823.5,606.5 L821.0,601.4 L818.4,596.3 L815.9,591.2 L813.3,586.0 L810.7,580.9 L808.1,575.8 L805.4,570.6 L802.8,565.5 L800.2,560.4 L800.0,555.3 L800.0,550.1 L800.0,545.0 Z"/>
<path filter="url(#bl1)" fill="#8c8c8c" d="M817.5,545.0 L817.5,550.1 L817.5,555.3 L817.7,560.4 L820.2,565.5 L822.6,570.6 L825.1,575.8 L827.6,580.9 L830.1,586.0 L832.9,591.2 L835.9,596.3 L838.9,601.4 L841.9,606.5 L844.9,611.7 L847.9,616.8 L850.9,621.9 L853.9,627.1 L856.9,632.2 L859.8,637.3 L862.8,642.4 L865.8,647.6 L868.9,652.7 L872.0,657.8 L875.1,662.9 L878.2,668.1 L881.3,673.2 L884.4,678.3 L887.6,683.5 L890.7,688.6 L893.8,693.7 L896.9,698.8 L899.9,704.0 L902.8,709.1 L905.8,714.2 L908.8,719.4 L911.7,724.5 L914.7,729.6 L917.6,734.7 L920.3,739.9 L923.0,745.0 L935.0,745.0 L932.3,739.9 L929.5,734.7 L926.4,729.6 L923.4,724.5 L920.3,719.4 L917.3,714.2 L914.2,709.1 L911.2,704.0 L908.1,698.8 L904.9,693.7 L901.7,688.6 L898.6,683.5 L895.4,678.3 L892.2,673.2 L889.0,668.1 L885.8,662.9 L882.6,657.8 L879.4,652.7 L876.2,647.6 L873.2,642.4 L870.1,637.3 L867.0,632.2 L863.9,627.1 L860.9,621.9 L857.8,616.8 L854.7,611.7 L851.6,606.5 L848.6,601.4 L845.5,596.3 L842.4,591.2 L839.5,586.0 L836.9,580.9 L834.4,575.8 L831.8,570.6 L829.3,565.5 L826.7,560.4 L826.5,555.3 L826.5,550.1 L826.5,545.0 Z"/>
<path filter="url(#bl1)" fill="#f2f2f2" d="M845.0,545.0 L845.0,550.1 L845.0,555.3 L845.2,560.4 L847.8,565.5 L850.5,570.6 L853.1,575.8 L855.7,580.9 L858.4,586.0 L861.4,591.2 L864.7,596.3 L867.9,601.4 L871.1,606.5 L874.4,611.7 L877.6,616.8 L880.8,621.9 L884.1,627.1 L887.3,632.2 L890.6,637.3 L893.8,642.4 L897.0,647.6 L900.5,652.7 L903.9,657.8 L907.3,662.9 L910.8,668.1 L914.2,673.2 L917.6,678.3 L921.1,683.5 L924.5,688.6 L927.9,693.7 L931.4,698.8 L935.8,704.0 L940.7,709.1 L945.5,714.2 L950.4,719.4 L955.3,724.5 L960.1,729.6 L965.0,734.7 L969.1,739.9 L973.0,745.0 L993.0,745.0 L988.8,739.9 L984.5,734.7 L979.4,729.6 L974.3,724.5 L969.3,719.4 L964.2,714.2 L959.1,709.1 L954.0,704.0 L949.3,698.8 L945.3,693.7 L941.4,688.6 L937.5,683.5 L933.6,678.3 L929.7,673.2 L925.7,668.1 L921.8,662.9 L917.9,657.8 L914.0,652.7 L910.1,647.6 L906.6,642.4 L903.2,637.3 L899.8,632.2 L896.4,627.1 L893.0,621.9 L889.6,616.8 L886.2,611.7 L882.7,606.5 L879.3,601.4 L875.9,596.3 L872.5,591.2 L869.3,586.0 L866.5,580.9 L863.6,575.8 L860.8,570.6 L858.0,565.5 L855.2,560.4 L855.0,555.3 L855.0,550.1 L855.0,545.0 Z"/>
<path filter="url(#bl1)" fill="#fff" d="M955,520 L955,573.8 L872.9,573.8 L893.6,589.8 L916,615.3 L935.1,644 L954.3,676 L973.4,695.1 L992.6,714.3 L1020,742 L1020,520 Z"/>
</g>
<clipPath id="ca"><rect x="54.3" y="528.2" width="269.1" height="217.6"/></clipPath>
<clipPath id="castr"><path d="M204.5,528.2 L323.4,528.2 L323.4,745.8 L158,745.8 L146,715 L134,690 L119,662 L113,643 L121.4,616.3 L144.7,583.1 L164.6,559.8 L184.5,539.9 L201.1,531.6 Z"/></clipPath>
<linearGradient id="gband" gradientUnits="userSpaceOnUse" x1="386.7" y1="360.8" x2="419.6" y2="391.5" spreadMethod="repeat"><stop offset="0" stop-color="#f6f6f6"/><stop offset="0.17" stop-color="#e4e4e4"/><stop offset="0.31" stop-color="#474747"/><stop offset="0.5" stop-color="#363636"/><stop offset="0.69" stop-color="#474747"/><stop offset="0.83" stop-color="#e4e4e4"/><stop offset="1" stop-color="#f6f6f6"/></linearGradient>
<linearGradient id="gfade" gradientUnits="userSpaceOnUse" x1="409.4" y1="381.9" x2="555.6" y2="518.3"><stop offset="0" stop-color="#454545" stop-opacity="0"/><stop offset="1" stop-color="#454545" stop-opacity="0.5"/></linearGradient>
<rect x="54.3" y="528.2" width="269.1" height="217.6" fill="#fff"/>
<g clip-path="url(#castr)"><rect x="54.3" y="528.2" width="269.1" height="217.6" fill="url(#gband)"/><rect x="54.3" y="528.2" width="269.1" height="217.6" fill="url(#gfade)"/></g>
<path fill="#f4f4f4" filter="url(#bl2)" d="M113,643 L119,662 L134,690 L146,715 L158,745.8 L168,745.8 L150,700 L132,660 L122,640 Z"/>
<path fill="#f8f8f8" filter="url(#bl2)" clip-path="url(#castr)" d="M107.0,643.0 L109.0,632.0 L115.4,616.3 L124.0,604.0 L132.0,594.0 L138.7,583.1 L146.0,574.0 L158.6,559.8 L169.0,549.0 L178.5,539.9 L188.0,534.0 L195.1,531.6 L198.5,528.2 L200.0,520.0 L220.6,533.6 L219.1,541.8 L215.7,545.2 L208.6,547.6 L199.1,553.5 L189.6,562.6 L179.2,573.4 L166.6,587.6 L159.3,596.7 L152.6,607.6 L144.6,617.6 L136.0,629.9 L129.6,645.6 L127.6,656.6Z"/>
<ellipse cx="149.5" cy="590.5" rx="4" ry="5" fill="#444" filter="url(#bl1)" clip-path="url(#castr)"/>
<ellipse cx="173" cy="561.6" rx="4" ry="5" fill="#3a3a3a" filter="url(#bl1)" clip-path="url(#castr)"/>
<ellipse cx="162.7" cy="580.7" rx="3" ry="4" fill="#777" filter="url(#bl1)" clip-path="url(#castr)"/>
<ellipse cx="139.3" cy="612.9" rx="3" ry="4" fill="#888" filter="url(#bl1)" clip-path="url(#castr)"/>
<ellipse cx="124.6" cy="627.5" rx="3" ry="5" fill="#777" filter="url(#bl1)" clip-path="url(#castr)"/>
<ellipse cx="118.5" cy="641" rx="3" ry="5" fill="#555" filter="url(#bl1)" clip-path="url(#castr)"/>
<ellipse cx="180.3" cy="554.3" rx="3" ry="4" fill="#888" filter="url(#bl1)" clip-path="url(#castr)"/>
<ellipse cx="197.9" cy="542.6" rx="2" ry="3" fill="#aaa" filter="url(#bl1)" clip-path="url(#castr)"/>
<ellipse cx="188" cy="550" rx="2" ry="3" fill="#999" filter="url(#bl1)" clip-path="url(#castr)"/>
<path fill="none" stroke="#222" stroke-width="0.9" d="M113,643 L115,632 L121.4,616.3 L130,604 L138,594 L144.7,583.1 L152,574 L164.6,559.8 L175,549 L184.5,539.9 L194,534 L201.1,531.6 L204.5,528.2"/>
<g clip-path="url(#ca)">
<path fill="#3e3e3e" d="M15.3,541.6 L39.6,583.4 L63.5,608.3 L83.5,638.2 L101.7,661.4 L118.3,688.0 L130.0,714.6 L139.9,754.4 L145.3,778.6 L0,770 L0,520 Z"/>
<path fill="none" stroke="#2e2e2e" stroke-width="2.4" d="M25.7,535.5 L50.0,577.3 L73.9,602.2 L93.9,632.1 L112.1,655.3 L128.7,681.9 L140.4,708.5 L150.3,748.3 L155.7,772.5"/>
<path fill="none" stroke="#333" stroke-width="2.2" d="M22.1,537.7 L46.4,579.5 L70.3,604.4 L90.3,634.3 L108.5,657.5 L125.1,684.1 L136.8,710.7 L146.7,750.5 L152.1,774.7"/>
<path fill="none" stroke="#3a3a3a" stroke-width="2.2" d="M18.5,539.7 L42.8,581.5 L66.7,606.4 L86.7,636.3 L104.9,659.5 L121.5,686.1 L133.2,712.7 L143.1,752.5 L148.5,776.7"/>
<path fill="none" stroke="#444" stroke-width="0.9" d="M30.0,533.0 L54.3,574.8 L78.2,599.7 L98.2,629.6 L116.4,652.8 L133.0,679.4 L144.7,706.0 L154.6,745.8 L160.0,770.0"/>
<path fill="none" stroke="#474747" stroke-width="1.5" d="M11.0,544.1 L35.3,585.9 L59.2,610.8 L79.2,640.7 L97.4,663.9 L114.0,690.5 L125.7,717.1 L135.6,756.9 L141.0,781.1"/>
<path fill="none" stroke="#444" stroke-width="1.5" d="M2.4,549.2 L26.7,591.0 L50.6,615.9 L70.6,645.8 L88.8,669.0 L105.4,695.6 L117.1,722.2 L127.0,762.0 L132.4,786.2"/>
<path fill="none" stroke="#474747" stroke-width="1.5" d="M-8.8,555.8 L15.5,597.6 L39.4,622.5 L59.4,652.4 L77.6,675.6 L94.2,702.2 L105.9,728.8 L115.8,768.6 L121.2,792.8"/>
<path fill="none" stroke="#444" stroke-width="1.5" d="M-21.8,563.4 L2.5,605.2 L26.4,630.1 L46.4,660.0 L64.6,683.2 L81.2,709.8 L92.9,736.4 L102.8,776.2 L108.2,800.4"/>
</g>
<rect x="56.8" y="730" width="27.6" height="13" fill="#fff"/>
<text x="57.6" y="738.3" font-size="9.2" font-family="Liberation Serif" fill="#333">0.5 <tspan font-style="italic">&#956;m</tspan></text>
<rect x="59.3" y="740.6" width="20.5" height="1" fill="#333"/>
<clipPath id="cb"><rect x="327" y="528" width="136.5" height="218"/></clipPath>
<filter id="bl6" x="-50%" y="-50%" width="200%" height="200%"><feGaussianBlur stdDeviation="4.5"/></filter>
<g clip-path="url(#cb)">
<rect x="327" y="528" width="136.5" height="218" fill="#8e8e8e"/>
<g filter="url(#bl6)">
<rect x="311" y="509" width="36" height="36" fill="rgb(220,220,220)"/>
<rect x="347" y="509" width="20" height="36" fill="rgb(220,220,220)"/>
<rect x="367" y="509" width="20" height="36" fill="rgb(220,220,220)"/>
<rect x="387" y="509" width="20" height="36" fill="rgb(220,220,220)"/>
<rect x="407" y="509" width="20" height="36" fill="rgb(150,150,150)"/>
<rect x="427" y="509" width="20" height="36" fill="rgb(140,140,140)"/>
<rect x="447" y="509" width="36" height="36" fill="rgb(165,165,165)"/>
<rect x="311" y="545" width="36" height="20" fill="rgb(220,220,220)"/>
<rect x="347" y="545" width="20" height="20" fill="rgb(220,220,220)"/>
<rect x="367" y="545" width="20" height="20" fill="rgb(220,220,220)"/>
<rect x="387" y="545" width="20" height="20" fill="rgb(150,150,150)"/>
<rect x="407" y="545" width="20" height="20" fill="rgb(115,115,115)"/>
<rect x="427" y="545" width="20" height="20" fill="rgb(105,105,105)"/>
<rect x="447" y="545" width="36" height="20" fill="rgb(160,160,160)"/>
<rect x="311" y="565" width="36" height="20" fill="rgb(220,220,220)"/>
<rect x="347" y="565" width="20" height="20" fill="rgb(185,185,185)"/>
<rect x="367" y="565" width="20" height="20" fill="rgb(135,135,135)"/>
<rect x="387" y="565" width="20" height="20" fill="rgb(105,105,105)"/>
<rect x="407" y="565" width="20" height="20" fill="rgb(90,90,90)"/>
<rect x="427" y="565" width="20" height="20" fill="rgb(130,130,130)"/>
<rect x="447" y="565" width="36" height="20" fill="rgb(170,170,170)"/>
<rect x="311" y="585" width="36" height="20" fill="rgb(150,150,150)"/>
<rect x="347" y="585" width="20" height="20" fill="rgb(110,110,110)"/>
<rect x="367" y="585" width="20" height="20" fill="rgb(90,90,90)"/>
<rect x="387" y="585" width="20" height="20" fill="rgb(95,95,95)"/>
<rect x="407" y="585" width="20" height="20" fill="rgb(135,135,135)"/>
<rect x="427" y="585" width="20" height="20" fill="rgb(175,175,175)"/>
<rect x="447" y="585" width="36" height="20" fill="rgb(175,175,175)"/>
<rect x="311" y="605" width="36" height="20" fill="rgb(90,90,90)"/>
<rect x="347" y="605" width="20" height="20" fill="rgb(85,85,85)"/>
<rect x="367" y="605" width="20" height="20" fill="rgb(120,120,120)"/>
<rect x="387" y="605" width="20" height="20" fill="rgb(150,150,150)"/>
<rect x="407" y="605" width="20" height="20" fill="rgb(170,170,170)"/>
<rect x="427" y="605" width="20" height="20" fill="rgb(150,150,150)"/>
<rect x="447" y="605" width="36" height="20" fill="rgb(120,120,120)"/>
<rect x="311" y="625" width="36" height="20" fill="rgb(85,85,85)"/>
<rect x="347" y="625" width="20" height="20" fill="rgb(100,100,100)"/>
<rect x="367" y="625" width="20" height="20" fill="rgb(170,170,170)"/>
<rect x="387" y="625" width="20" height="20" fill="rgb(180,180,180)"/>
<rect x="407" y="625" width="20" height="20" fill="rgb(125,125,125)"/>
<rect x="427" y="625" width="20" height="20" fill="rgb(95,95,95)"/>
<rect x="447" y="625" width="36" height="20" fill="rgb(80,80,80)"/>
<rect x="311" y="645" width="36" height="20" fill="rgb(90,90,90)"/>
<rect x="347" y="645" width="20" height="20" fill="rgb(140,140,140)"/>
<rect x="367" y="645" width="20" height="20" fill="rgb(190,190,190)"/>
<rect x="387" y="645" width="20" height="20" fill="rgb(150,150,150)"/>
<rect x="407" y="645" width="20" height="20" fill="rgb(85,85,85)"/>
<rect x="427" y="645" width="20" height="20" fill="rgb(70,70,70)"/>
<rect x="447" y="645" width="36" height="20" fill="rgb(70,70,70)"/>
<rect x="311" y="665" width="36" height="20" fill="rgb(140,140,140)"/>
<rect x="347" y="665" width="20" height="20" fill="rgb(180,180,180)"/>
<rect x="367" y="665" width="20" height="20" fill="rgb(170,170,170)"/>
<rect x="387" y="665" width="20" height="20" fill="rgb(110,110,110)"/>
<rect x="407" y="665" width="20" height="20" fill="rgb(70,70,70)"/>
<rect x="427" y="665" width="20" height="20" fill="rgb(65,65,65)"/>
<rect x="447" y="665" width="36" height="20" fill="rgb(80,80,80)"/>
<rect x="311" y="685" width="36" height="20" fill="rgb(180,180,180)"/>
<rect x="347" y="685" width="20" height="20" fill="rgb(175,175,175)"/>
<rect x="367" y="685" width="20" height="20" fill="rgb(130,130,130)"/>
<rect x="387" y="685" width="20" height="20" fill="rgb(80,80,80)"/>
<rect x="407" y="685" width="20" height="20" fill="rgb(65,65,65)"/>
<rect x="427" y="685" width="20" height="20" fill="rgb(80,80,80)"/>
<rect x="447" y="685" width="36" height="20" fill="rgb(110,110,110)"/>
<rect x="311" y="705" width="36" height="20" fill="rgb(185,185,185)"/>
<rect x="347" y="705" width="20" height="20" fill="rgb(155,155,155)"/>
<rect x="367" y="705" width="20" height="20" fill="rgb(105,105,105)"/>
<rect x="387" y="705" width="20" height="20" fill="rgb(70,70,70)"/>
<rect x="407" y="705" width="20" height="20" fill="rgb(85,85,85)"/>
<rect x="427" y="705" width="20" height="20" fill="rgb(125,125,125)"/>
<rect x="447" y="705" width="36" height="20" fill="rgb(140,140,140)"/>
<rect x="311" y="725" width="36" height="36" fill="rgb(175,175,175)"/>
<rect x="347" y="725" width="20" height="36" fill="rgb(135,135,135)"/>
<rect x="367" y="725" width="20" height="36" fill="rgb(95,95,95)"/>
<rect x="387" y="725" width="20" height="36" fill="rgb(100,100,100)"/>
<rect x="407" y="725" width="20" height="36" fill="rgb(140,140,140)"/>
<rect x="427" y="725" width="20" height="36" fill="rgb(155,155,155)"/>
<rect x="447" y="725" width="36" height="36" fill="rgb(155,155,155)"/>
</g>
<linearGradient id="gcell" x1="0" y1="0" x2="1" y2="0.3"><stop offset="0" stop-color="#fff" stop-opacity="0.22"/><stop offset="0.7" stop-color="#000" stop-opacity="0"/><stop offset="1" stop-color="#000" stop-opacity="0.25"/></linearGradient>
<g stroke="#000" stroke-opacity="0.10" stroke-width="0.7"><path d="M445.0,768.4 L460.0,762.7 L462.0,748.7 L447.0,754.4Z" fill="#000" fill-opacity="0.15"/><path d="M445.0,768.4 L460.0,762.7 L462.0,748.7 L447.0,754.4Z" fill="url(#gcell)"/><path d="M460.0,762.7 L475.0,757.0 L477.0,743.0 L462.0,748.7Z" fill="#fff" fill-opacity="0.15"/><path d="M460.0,762.7 L475.0,757.0 L477.0,743.0 L462.0,748.7Z" fill="url(#gcell)"/><path d="M415.0,765.8 L430.0,760.1 L432.0,746.1 L417.0,751.8Z" fill="#fff" fill-opacity="0.13"/><path d="M415.0,765.8 L430.0,760.1 L432.0,746.1 L417.0,751.8Z" fill="url(#gcell)"/><path d="M430.0,760.1 L445.0,754.4 L447.0,740.4 L432.0,746.1Z" fill="#fff" fill-opacity="0.14"/><path d="M430.0,760.1 L445.0,754.4 L447.0,740.4 L432.0,746.1Z" fill="url(#gcell)"/><path d="M445.0,754.4 L460.0,748.7 L462.0,734.7 L447.0,740.4Z" fill="#fff" fill-opacity="0.19"/><path d="M445.0,754.4 L460.0,748.7 L462.0,734.7 L447.0,740.4Z" fill="url(#gcell)"/><path d="M460.0,748.7 L475.0,743.0 L477.0,729.0 L462.0,734.7Z" fill="#000" fill-opacity="0.17"/><path d="M460.0,748.7 L475.0,743.0 L477.0,729.0 L462.0,734.7Z" fill="url(#gcell)"/><path d="M370.0,768.9 L385.0,763.2 L387.0,749.2 L372.0,754.9Z" fill="#000" fill-opacity="0.06"/><path d="M370.0,768.9 L385.0,763.2 L387.0,749.2 L372.0,754.9Z" fill="url(#gcell)"/><path d="M385.0,763.2 L400.0,757.5 L402.0,743.5 L387.0,749.2Z" fill="#000" fill-opacity="0.08"/><path d="M385.0,763.2 L400.0,757.5 L402.0,743.5 L387.0,749.2Z" fill="url(#gcell)"/><path d="M400.0,757.5 L415.0,751.8 L417.0,737.8 L402.0,743.5Z" fill="#000" fill-opacity="0.12"/><path d="M400.0,757.5 L415.0,751.8 L417.0,737.8 L402.0,743.5Z" fill="url(#gcell)"/><path d="M415.0,751.8 L430.0,746.1 L432.0,732.1 L417.0,737.8Z" fill="#fff" fill-opacity="0.18"/><path d="M415.0,751.8 L430.0,746.1 L432.0,732.1 L417.0,737.8Z" fill="url(#gcell)"/><path d="M430.0,746.1 L445.0,740.4 L447.0,726.4 L432.0,732.1Z" fill="#000" fill-opacity="0.20"/><path d="M430.0,746.1 L445.0,740.4 L447.0,726.4 L432.0,732.1Z" fill="url(#gcell)"/><path d="M445.0,740.4 L460.0,734.7 L462.0,720.7 L447.0,726.4Z" fill="#000" fill-opacity="0.08"/><path d="M445.0,740.4 L460.0,734.7 L462.0,720.7 L447.0,726.4Z" fill="url(#gcell)"/><path d="M460.0,734.7 L475.0,729.0 L477.0,715.0 L462.0,720.7Z" fill="#000" fill-opacity="0.09"/><path d="M460.0,734.7 L475.0,729.0 L477.0,715.0 L462.0,720.7Z" fill="url(#gcell)"/><path d="M340.0,766.3 L355.0,760.6 L357.0,746.6 L342.0,752.3Z" fill="#fff" fill-opacity="0.15"/><path d="M340.0,766.3 L355.0,760.6 L357.0,746.6 L342.0,752.3Z" fill="url(#gcell)"/><path d="M355.0,760.6 L370.0,754.9 L372.0,740.9 L357.0,746.6Z" fill="#fff" fill-opacity="0.05"/><path d="M355.0,760.6 L370.0,754.9 L372.0,740.9 L357.0,746.6Z" fill="url(#gcell)"/><path d="M370.0,754.9 L385.0,749.2 L387.0,735.2 L372.0,740.9Z" fill="#fff" fill-opacity="0.17"/><path d="M370.0,754.9 L385.0,749.2 L387.0,735.2 L372.0,740.9Z" fill="url(#gcell)"/><path d="M385.0,749.2 L400.0,743.5 L402.0,729.5 L387.0,735.2Z" fill="#000" fill-opacity="0.15"/><path d="M385.0,749.2 L400.0,743.5 L402.0,729.5 L387.0,735.2Z" fill="url(#gcell)"/><path d="M400.0,743.5 L415.0,737.8 L417.0,723.8 L402.0,729.5Z" fill="#000" fill-opacity="0.07"/><path d="M400.0,743.5 L415.0,737.8 L417.0,723.8 L402.0,729.5Z" fill="url(#gcell)"/><path d="M415.0,737.8 L430.0,732.1 L432.0,718.1 L417.0,723.8Z" fill="#000" fill-opacity="0.07"/><path d="M415.0,737.8 L430.0,732.1 L432.0,718.1 L417.0,723.8Z" fill="url(#gcell)"/><path d="M430.0,732.1 L445.0,726.4 L447.0,712.4 L432.0,718.1Z" fill="#000" fill-opacity="0.20"/><path d="M430.0,732.1 L445.0,726.4 L447.0,712.4 L432.0,718.1Z" fill="url(#gcell)"/><path d="M445.0,726.4 L460.0,720.7 L462.0,706.7 L447.0,712.4Z" fill="#000" fill-opacity="0.10"/><path d="M445.0,726.4 L460.0,720.7 L462.0,706.7 L447.0,712.4Z" fill="url(#gcell)"/><path d="M460.0,720.7 L475.0,715.0 L477.0,701.0 L462.0,706.7Z" fill="#fff" fill-opacity="0.20"/><path d="M460.0,720.7 L475.0,715.0 L477.0,701.0 L462.0,706.7Z" fill="url(#gcell)"/><path d="M325.0,758.0 L340.0,752.3 L342.0,738.3 L327.0,744.0Z" fill="#000" fill-opacity="0.06"/><path d="M325.0,758.0 L340.0,752.3 L342.0,738.3 L327.0,744.0Z" fill="url(#gcell)"/><path d="M340.0,752.3 L355.0,746.6 L357.0,732.6 L342.0,738.3Z" fill="#fff" fill-opacity="0.07"/><path d="M340.0,752.3 L355.0,746.6 L357.0,732.6 L342.0,738.3Z" fill="url(#gcell)"/><path d="M355.0,746.6 L370.0,740.9 L372.0,726.9 L357.0,732.6Z" fill="#000" fill-opacity="0.07"/><path d="M355.0,746.6 L370.0,740.9 L372.0,726.9 L357.0,732.6Z" fill="url(#gcell)"/><path d="M370.0,740.9 L385.0,735.2 L387.0,721.2 L372.0,726.9Z" fill="#000" fill-opacity="0.22"/><path d="M370.0,740.9 L385.0,735.2 L387.0,721.2 L372.0,726.9Z" fill="url(#gcell)"/><path d="M385.0,735.2 L400.0,729.5 L402.0,715.5 L387.0,721.2Z" fill="#000" fill-opacity="0.11"/><path d="M385.0,735.2 L400.0,729.5 L402.0,715.5 L387.0,721.2Z" fill="url(#gcell)"/><path d="M400.0,729.5 L415.0,723.8 L417.0,709.8 L402.0,715.5Z" fill="#000" fill-opacity="0.18"/><path d="M400.0,729.5 L415.0,723.8 L417.0,709.8 L402.0,715.5Z" fill="url(#gcell)"/><path d="M415.0,723.8 L430.0,718.1 L432.0,704.1 L417.0,709.8Z" fill="#fff" fill-opacity="0.20"/><path d="M415.0,723.8 L430.0,718.1 L432.0,704.1 L417.0,709.8Z" fill="url(#gcell)"/><path d="M430.0,718.1 L445.0,712.4 L447.0,698.4 L432.0,704.1Z" fill="#fff" fill-opacity="0.16"/><path d="M430.0,718.1 L445.0,712.4 L447.0,698.4 L432.0,704.1Z" fill="url(#gcell)"/><path d="M445.0,712.4 L460.0,706.7 L462.0,692.7 L447.0,698.4Z" fill="#000" fill-opacity="0.05"/><path d="M445.0,712.4 L460.0,706.7 L462.0,692.7 L447.0,698.4Z" fill="url(#gcell)"/><path d="M460.0,706.7 L475.0,701.0 L477.0,687.0 L462.0,692.7Z" fill="#000" fill-opacity="0.16"/><path d="M460.0,706.7 L475.0,701.0 L477.0,687.0 L462.0,692.7Z" fill="url(#gcell)"/><path d="M325.0,744.0 L340.0,738.3 L342.0,724.3 L327.0,730.0Z" fill="#fff" fill-opacity="0.20"/><path d="M325.0,744.0 L340.0,738.3 L342.0,724.3 L327.0,730.0Z" fill="url(#gcell)"/><path d="M340.0,738.3 L355.0,732.6 L357.0,718.6 L342.0,724.3Z" fill="#000" fill-opacity="0.08"/><path d="M340.0,738.3 L355.0,732.6 L357.0,718.6 L342.0,724.3Z" fill="url(#gcell)"/><path d="M355.0,732.6 L370.0,726.9 L372.0,712.9 L357.0,718.6Z" fill="#fff" fill-opacity="0.18"/><path d="M355.0,732.6 L370.0,726.9 L372.0,712.9 L357.0,718.6Z" fill="url(#gcell)"/><path d="M370.0,726.9 L385.0,721.2 L387.0,707.2 L372.0,712.9Z" fill="#fff" fill-opacity="0.17"/><path d="M370.0,726.9 L385.0,721.2 L387.0,707.2 L372.0,712.9Z" fill="url(#gcell)"/><path d="M385.0,721.2 L400.0,715.5 L402.0,701.5 L387.0,707.2Z" fill="#fff" fill-opacity="0.17"/><path d="M385.0,721.2 L400.0,715.5 L402.0,701.5 L387.0,707.2Z" fill="url(#gcell)"/><path d="M400.0,715.5 L415.0,709.8 L417.0,695.8 L402.0,701.5Z" fill="#000" fill-opacity="0.18"/><path d="M400.0,715.5 L415.0,709.8 L417.0,695.8 L402.0,701.5Z" fill="url(#gcell)"/><path d="M415.0,709.8 L430.0,704.1 L432.0,690.1 L417.0,695.8Z" fill="#fff" fill-opacity="0.10"/><path d="M415.0,709.8 L430.0,704.1 L432.0,690.1 L417.0,695.8Z" fill="url(#gcell)"/><path d="M430.0,704.1 L445.0,698.4 L447.0,684.4 L432.0,690.1Z" fill="#fff" fill-opacity="0.07"/><path d="M430.0,704.1 L445.0,698.4 L447.0,684.4 L432.0,690.1Z" fill="url(#gcell)"/><path d="M445.0,698.4 L460.0,692.7 L462.0,678.7 L447.0,684.4Z" fill="#fff" fill-opacity="0.17"/><path d="M445.0,698.4 L460.0,692.7 L462.0,678.7 L447.0,684.4Z" fill="url(#gcell)"/><path d="M460.0,692.7 L475.0,687.0 L477.0,673.0 L462.0,678.7Z" fill="#fff" fill-opacity="0.15"/><path d="M460.0,692.7 L475.0,687.0 L477.0,673.0 L462.0,678.7Z" fill="url(#gcell)"/><path d="M325.0,730.0 L340.0,724.3 L342.0,710.3 L327.0,716.0Z" fill="#000" fill-opacity="0.04"/><path d="M325.0,730.0 L340.0,724.3 L342.0,710.3 L327.0,716.0Z" fill="url(#gcell)"/><path d="M340.0,724.3 L355.0,718.6 L357.0,704.6 L342.0,710.3Z" fill="#000" fill-opacity="0.21"/><path d="M340.0,724.3 L355.0,718.6 L357.0,704.6 L342.0,710.3Z" fill="url(#gcell)"/><path d="M355.0,718.6 L370.0,712.9 L372.0,698.9 L357.0,704.6Z" fill="#fff" fill-opacity="0.07"/><path d="M355.0,718.6 L370.0,712.9 L372.0,698.9 L357.0,704.6Z" fill="url(#gcell)"/><path d="M370.0,712.9 L385.0,707.2 L387.0,693.2 L372.0,698.9Z" fill="#000" fill-opacity="0.15"/><path d="M370.0,712.9 L385.0,707.2 L387.0,693.2 L372.0,698.9Z" fill="url(#gcell)"/><path d="M385.0,707.2 L400.0,701.5 L402.0,687.5 L387.0,693.2Z" fill="#000" fill-opacity="0.20"/><path d="M385.0,707.2 L400.0,701.5 L402.0,687.5 L387.0,693.2Z" fill="url(#gcell)"/><path d="M400.0,701.5 L415.0,695.8 L417.0,681.8 L402.0,687.5Z" fill="#000" fill-opacity="0.20"/><path d="M400.0,701.5 L415.0,695.8 L417.0,681.8 L402.0,687.5Z" fill="url(#gcell)"/><path d="M415.0,695.8 L430.0,690.1 L432.0,676.1 L417.0,681.8Z" fill="#000" fill-opacity="0.14"/><path d="M415.0,695.8 L430.0,690.1 L432.0,676.1 L417.0,681.8Z" fill="url(#gcell)"/><path d="M430.0,690.1 L445.0,684.4 L447.0,670.4 L432.0,676.1Z" fill="#000" fill-opacity="0.07"/><path d="M430.0,690.1 L445.0,684.4 L447.0,670.4 L432.0,676.1Z" fill="url(#gcell)"/><path d="M445.0,684.4 L460.0,678.7 L462.0,664.7 L447.0,670.4Z" fill="#000" fill-opacity="0.13"/><path d="M445.0,684.4 L460.0,678.7 L462.0,664.7 L447.0,670.4Z" fill="url(#gcell)"/><path d="M460.0,678.7 L475.0,673.0 L477.0,659.0 L462.0,664.7Z" fill="#000" fill-opacity="0.13"/><path d="M460.0,678.7 L475.0,673.0 L477.0,659.0 L462.0,664.7Z" fill="url(#gcell)"/><path d="M325.0,716.0 L340.0,710.3 L342.0,696.3 L327.0,702.0Z" fill="#000" fill-opacity="0.14"/><path d="M325.0,716.0 L340.0,710.3 L342.0,696.3 L327.0,702.0Z" fill="url(#gcell)"/><path d="M340.0,710.3 L355.0,704.6 L357.0,690.6 L342.0,696.3Z" fill="#fff" fill-opacity="0.12"/><path d="M340.0,710.3 L355.0,704.6 L357.0,690.6 L342.0,696.3Z" fill="url(#gcell)"/><path d="M355.0,704.6 L370.0,698.9 L372.0,684.9 L357.0,690.6Z" fill="#fff" fill-opacity="0.11"/><path d="M355.0,704.6 L370.0,698.9 L372.0,684.9 L357.0,690.6Z" fill="url(#gcell)"/><path d="M370.0,698.9 L385.0,693.2 L387.0,679.2 L372.0,684.9Z" fill="#000" fill-opacity="0.16"/><path d="M370.0,698.9 L385.0,693.2 L387.0,679.2 L372.0,684.9Z" fill="url(#gcell)"/><path d="M385.0,693.2 L400.0,687.5 L402.0,673.5 L387.0,679.2Z" fill="#000" fill-opacity="0.21"/><path d="M385.0,693.2 L400.0,687.5 L402.0,673.5 L387.0,679.2Z" fill="url(#gcell)"/><path d="M400.0,687.5 L415.0,681.8 L417.0,667.8 L402.0,673.5Z" fill="#fff" fill-opacity="0.08"/><path d="M400.0,687.5 L415.0,681.8 L417.0,667.8 L402.0,673.5Z" fill="url(#gcell)"/><path d="M415.0,681.8 L430.0,676.1 L432.0,662.1 L417.0,667.8Z" fill="#fff" fill-opacity="0.06"/><path d="M415.0,681.8 L430.0,676.1 L432.0,662.1 L417.0,667.8Z" fill="url(#gcell)"/><path d="M430.0,676.1 L445.0,670.4 L447.0,656.4 L432.0,662.1Z" fill="#000" fill-opacity="0.08"/><path d="M430.0,676.1 L445.0,670.4 L447.0,656.4 L432.0,662.1Z" fill="url(#gcell)"/><path d="M445.0,670.4 L460.0,664.7 L462.0,650.7 L447.0,656.4Z" fill="#fff" fill-opacity="0.18"/><path d="M445.0,670.4 L460.0,664.7 L462.0,650.7 L447.0,656.4Z" fill="url(#gcell)"/><path d="M460.0,664.7 L475.0,659.0 L477.0,645.0 L462.0,650.7Z" fill="#fff" fill-opacity="0.06"/><path d="M460.0,664.7 L475.0,659.0 L477.0,645.0 L462.0,650.7Z" fill="url(#gcell)"/><path d="M325.0,702.0 L340.0,696.3 L342.0,682.3 L327.0,688.0Z" fill="#000" fill-opacity="0.21"/><path d="M325.0,702.0 L340.0,696.3 L342.0,682.3 L327.0,688.0Z" fill="url(#gcell)"/><path d="M340.0,696.3 L355.0,690.6 L357.0,676.6 L342.0,682.3Z" fill="#fff" fill-opacity="0.17"/><path d="M340.0,696.3 L355.0,690.6 L357.0,676.6 L342.0,682.3Z" fill="url(#gcell)"/><path d="M355.0,690.6 L370.0,684.9 L372.0,670.9 L357.0,676.6Z" fill="#000" fill-opacity="0.10"/><path d="M355.0,690.6 L370.0,684.9 L372.0,670.9 L357.0,676.6Z" fill="url(#gcell)"/><path d="M370.0,684.9 L385.0,679.2 L387.0,665.2 L372.0,670.9Z" fill="#fff" fill-opacity="0.04"/><path d="M370.0,684.9 L385.0,679.2 L387.0,665.2 L372.0,670.9Z" fill="url(#gcell)"/><path d="M385.0,679.2 L400.0,673.5 L402.0,659.5 L387.0,665.2Z" fill="#000" fill-opacity="0.10"/><path d="M385.0,679.2 L400.0,673.5 L402.0,659.5 L387.0,665.2Z" fill="url(#gcell)"/><path d="M400.0,673.5 L415.0,667.8 L417.0,653.8 L402.0,659.5Z" fill="#000" fill-opacity="0.22"/><path d="M400.0,673.5 L415.0,667.8 L417.0,653.8 L402.0,659.5Z" fill="url(#gcell)"/><path d="M415.0,667.8 L430.0,662.1 L432.0,648.1 L417.0,653.8Z" fill="#000" fill-opacity="0.09"/><path d="M415.0,667.8 L430.0,662.1 L432.0,648.1 L417.0,653.8Z" fill="url(#gcell)"/><path d="M430.0,662.1 L445.0,656.4 L447.0,642.4 L432.0,648.1Z" fill="#000" fill-opacity="0.06"/><path d="M430.0,662.1 L445.0,656.4 L447.0,642.4 L432.0,648.1Z" fill="url(#gcell)"/><path d="M445.0,656.4 L460.0,650.7 L462.0,636.7 L447.0,642.4Z" fill="#fff" fill-opacity="0.08"/><path d="M445.0,656.4 L460.0,650.7 L462.0,636.7 L447.0,642.4Z" fill="url(#gcell)"/><path d="M460.0,650.7 L475.0,645.0 L477.0,631.0 L462.0,636.7Z" fill="#000" fill-opacity="0.17"/><path d="M460.0,650.7 L475.0,645.0 L477.0,631.0 L462.0,636.7Z" fill="url(#gcell)"/><path d="M325.0,688.0 L340.0,682.3 L342.0,668.3 L327.0,674.0Z" fill="#fff" fill-opacity="0.11"/><path d="M325.0,688.0 L340.0,682.3 L342.0,668.3 L327.0,674.0Z" fill="url(#gcell)"/><path d="M340.0,682.3 L355.0,676.6 L357.0,662.6 L342.0,668.3Z" fill="#fff" fill-opacity="0.17"/><path d="M340.0,682.3 L355.0,676.6 L357.0,662.6 L342.0,668.3Z" fill="url(#gcell)"/><path d="M355.0,676.6 L370.0,670.9 L372.0,656.9 L357.0,662.6Z" fill="#000" fill-opacity="0.20"/><path d="M355.0,676.6 L370.0,670.9 L372.0,656.9 L357.0,662.6Z" fill="url(#gcell)"/><path d="M370.0,670.9 L385.0,665.2 L387.0,651.2 L372.0,656.9Z" fill="#000" fill-opacity="0.21"/><path d="M370.0,670.9 L385.0,665.2 L387.0,651.2 L372.0,656.9Z" fill="url(#gcell)"/><path d="M385.0,665.2 L400.0,659.5 L402.0,645.5 L387.0,651.2Z" fill="#000" fill-opacity="0.08"/><path d="M385.0,665.2 L400.0,659.5 L402.0,645.5 L387.0,651.2Z" fill="url(#gcell)"/><path d="M400.0,659.5 L415.0,653.8 L417.0,639.8 L402.0,645.5Z" fill="#000" fill-opacity="0.08"/><path d="M400.0,659.5 L415.0,653.8 L417.0,639.8 L402.0,645.5Z" fill="url(#gcell)"/><path d="M415.0,653.8 L430.0,648.1 L432.0,634.1 L417.0,639.8Z" fill="#fff" fill-opacity="0.09"/><path d="M415.0,653.8 L430.0,648.1 L432.0,634.1 L417.0,639.8Z" fill="url(#gcell)"/><path d="M430.0,648.1 L445.0,642.4 L447.0,628.4 L432.0,634.1Z" fill="#000" fill-opacity="0.04"/><path d="M430.0,648.1 L445.0,642.4 L447.0,628.4 L432.0,634.1Z" fill="url(#gcell)"/><path d="M445.0,642.4 L460.0,636.7 L462.0,622.7 L447.0,628.4Z" fill="#fff" fill-opacity="0.13"/><path d="M445.0,642.4 L460.0,636.7 L462.0,622.7 L447.0,628.4Z" fill="url(#gcell)"/><path d="M460.0,636.7 L475.0,631.0 L477.0,617.0 L462.0,622.7Z" fill="#fff" fill-opacity="0.06"/><path d="M460.0,636.7 L475.0,631.0 L477.0,617.0 L462.0,622.7Z" fill="url(#gcell)"/><path d="M325.0,674.0 L340.0,668.3 L342.0,654.3 L327.0,660.0Z" fill="#000" fill-opacity="0.19"/><path d="M325.0,674.0 L340.0,668.3 L342.0,654.3 L327.0,660.0Z" fill="url(#gcell)"/><path d="M340.0,668.3 L355.0,662.6 L357.0,648.6 L342.0,654.3Z" fill="#fff" fill-opacity="0.20"/><path d="M340.0,668.3 L355.0,662.6 L357.0,648.6 L342.0,654.3Z" fill="url(#gcell)"/><path d="M355.0,662.6 L370.0,656.9 L372.0,642.9 L357.0,648.6Z" fill="#fff" fill-opacity="0.14"/><path d="M355.0,662.6 L370.0,656.9 L372.0,642.9 L357.0,648.6Z" fill="url(#gcell)"/><path d="M370.0,656.9 L385.0,651.2 L387.0,637.2 L372.0,642.9Z" fill="#000" fill-opacity="0.06"/><path d="M370.0,656.9 L385.0,651.2 L387.0,637.2 L372.0,642.9Z" fill="url(#gcell)"/><path d="M385.0,651.2 L400.0,645.5 L402.0,631.5 L387.0,637.2Z" fill="#000" fill-opacity="0.07"/><path d="M385.0,651.2 L400.0,645.5 L402.0,631.5 L387.0,637.2Z" fill="url(#gcell)"/><path d="M400.0,645.5 L415.0,639.8 L417.0,625.8 L402.0,631.5Z" fill="#fff" fill-opacity="0.15"/><path d="M400.0,645.5 L415.0,639.8 L417.0,625.8 L402.0,631.5Z" fill="url(#gcell)"/><path d="M415.0,639.8 L430.0,634.1 L432.0,620.1 L417.0,625.8Z" fill="#000" fill-opacity="0.12"/><path d="M415.0,639.8 L430.0,634.1 L432.0,620.1 L417.0,625.8Z" fill="url(#gcell)"/><path d="M430.0,634.1 L445.0,628.4 L447.0,614.4 L432.0,620.1Z" fill="#000" fill-opacity="0.21"/><path d="M430.0,634.1 L445.0,628.4 L447.0,614.4 L432.0,620.1Z" fill="url(#gcell)"/><path d="M445.0,628.4 L460.0,622.7 L462.0,608.7 L447.0,614.4Z" fill="#000" fill-opacity="0.21"/><path d="M445.0,628.4 L460.0,622.7 L462.0,608.7 L447.0,614.4Z" fill="url(#gcell)"/><path d="M460.0,622.7 L475.0,617.0 L477.0,603.0 L462.0,608.7Z" fill="#000" fill-opacity="0.11"/><path d="M460.0,622.7 L475.0,617.0 L477.0,603.0 L462.0,608.7Z" fill="url(#gcell)"/><path d="M325.0,660.0 L340.0,654.3 L342.0,640.3 L327.0,646.0Z" fill="#000" fill-opacity="0.13"/><path d="M325.0,660.0 L340.0,654.3 L342.0,640.3 L327.0,646.0Z" fill="url(#gcell)"/><path d="M340.0,654.3 L355.0,648.6 L357.0,634.6 L342.0,640.3Z" fill="#000" fill-opacity="0.11"/><path d="M340.0,654.3 L355.0,648.6 L357.0,634.6 L342.0,640.3Z" fill="url(#gcell)"/><path d="M355.0,648.6 L370.0,642.9 L372.0,628.9 L357.0,634.6Z" fill="#000" fill-opacity="0.08"/><path d="M355.0,648.6 L370.0,642.9 L372.0,628.9 L357.0,634.6Z" fill="url(#gcell)"/><path d="M370.0,642.9 L385.0,637.2 L387.0,623.2 L372.0,628.9Z" fill="#fff" fill-opacity="0.15"/><path d="M370.0,642.9 L385.0,637.2 L387.0,623.2 L372.0,628.9Z" fill="url(#gcell)"/><path d="M385.0,637.2 L400.0,631.5 L402.0,617.5 L387.0,623.2Z" fill="#000" fill-opacity="0.10"/><path d="M385.0,637.2 L400.0,631.5 L402.0,617.5 L387.0,623.2Z" fill="url(#gcell)"/><path d="M400.0,631.5 L415.0,625.8 L417.0,611.8 L402.0,617.5Z" fill="#fff" fill-opacity="0.14"/><path d="M400.0,631.5 L415.0,625.8 L417.0,611.8 L402.0,617.5Z" fill="url(#gcell)"/><path d="M415.0,625.8 L430.0,620.1 L432.0,606.1 L417.0,611.8Z" fill="#fff" fill-opacity="0.14"/><path d="M415.0,625.8 L430.0,620.1 L432.0,606.1 L417.0,611.8Z" fill="url(#gcell)"/><path d="M430.0,620.1 L445.0,614.4 L447.0,600.4 L432.0,606.1Z" fill="#000" fill-opacity="0.13"/><path d="M430.0,620.1 L445.0,614.4 L447.0,600.4 L432.0,606.1Z" fill="url(#gcell)"/><path d="M445.0,614.4 L460.0,608.7 L462.0,594.7 L447.0,600.4Z" fill="#fff" fill-opacity="0.17"/><path d="M445.0,614.4 L460.0,608.7 L462.0,594.7 L447.0,600.4Z" fill="url(#gcell)"/><path d="M460.0,608.7 L475.0,603.0 L477.0,589.0 L462.0,594.7Z" fill="#fff" fill-opacity="0.15"/><path d="M460.0,608.7 L475.0,603.0 L477.0,589.0 L462.0,594.7Z" fill="url(#gcell)"/><path d="M325.0,646.0 L340.0,640.3 L342.0,626.3 L327.0,632.0Z" fill="#000" fill-opacity="0.10"/><path d="M325.0,646.0 L340.0,640.3 L342.0,626.3 L327.0,632.0Z" fill="url(#gcell)"/><path d="M340.0,640.3 L355.0,634.6 L357.0,620.6 L342.0,626.3Z" fill="#000" fill-opacity="0.15"/><path d="M340.0,640.3 L355.0,634.6 L357.0,620.6 L342.0,626.3Z" fill="url(#gcell)"/><path d="M355.0,634.6 L370.0,628.9 L372.0,614.9 L357.0,620.6Z" fill="#000" fill-opacity="0.04"/><path d="M355.0,634.6 L370.0,628.9 L372.0,614.9 L357.0,620.6Z" fill="url(#gcell)"/><path d="M370.0,628.9 L385.0,623.2 L387.0,609.2 L372.0,614.9Z" fill="#000" fill-opacity="0.14"/><path d="M370.0,628.9 L385.0,623.2 L387.0,609.2 L372.0,614.9Z" fill="url(#gcell)"/><path d="M385.0,623.2 L400.0,617.5 L402.0,603.5 L387.0,609.2Z" fill="#fff" fill-opacity="0.08"/><path d="M385.0,623.2 L400.0,617.5 L402.0,603.5 L387.0,609.2Z" fill="url(#gcell)"/><path d="M400.0,617.5 L415.0,611.8 L417.0,597.8 L402.0,603.5Z" fill="#fff" fill-opacity="0.07"/><path d="M400.0,617.5 L415.0,611.8 L417.0,597.8 L402.0,603.5Z" fill="url(#gcell)"/><path d="M415.0,611.8 L430.0,606.1 L432.0,592.1 L417.0,597.8Z" fill="#000" fill-opacity="0.11"/><path d="M415.0,611.8 L430.0,606.1 L432.0,592.1 L417.0,597.8Z" fill="url(#gcell)"/><path d="M430.0,606.1 L445.0,600.4 L447.0,586.4 L432.0,592.1Z" fill="#fff" fill-opacity="0.14"/><path d="M430.0,606.1 L445.0,600.4 L447.0,586.4 L432.0,592.1Z" fill="url(#gcell)"/><path d="M445.0,600.4 L460.0,594.7 L462.0,580.7 L447.0,586.4Z" fill="#000" fill-opacity="0.09"/><path d="M445.0,600.4 L460.0,594.7 L462.0,580.7 L447.0,586.4Z" fill="url(#gcell)"/><path d="M460.0,594.7 L475.0,589.0 L477.0,575.0 L462.0,580.7Z" fill="#000" fill-opacity="0.04"/><path d="M460.0,594.7 L475.0,589.0 L477.0,575.0 L462.0,580.7Z" fill="url(#gcell)"/><path d="M325.0,632.0 L340.0,626.3 L342.0,612.3 L327.0,618.0Z" fill="#fff" fill-opacity="0.15"/><path d="M325.0,632.0 L340.0,626.3 L342.0,612.3 L327.0,618.0Z" fill="url(#gcell)"/><path d="M340.0,626.3 L355.0,620.6 L357.0,606.6 L342.0,612.3Z" fill="#000" fill-opacity="0.12"/><path d="M340.0,626.3 L355.0,620.6 L357.0,606.6 L342.0,612.3Z" fill="url(#gcell)"/><path d="M355.0,620.6 L370.0,614.9 L372.0,600.9 L357.0,606.6Z" fill="#fff" fill-opacity="0.07"/><path d="M355.0,620.6 L370.0,614.9 L372.0,600.9 L357.0,606.6Z" fill="url(#gcell)"/><path d="M370.0,614.9 L385.0,609.2 L387.0,595.2 L372.0,600.9Z" fill="#000" fill-opacity="0.12"/><path d="M370.0,614.9 L385.0,609.2 L387.0,595.2 L372.0,600.9Z" fill="url(#gcell)"/><path d="M385.0,609.2 L400.0,603.5 L402.0,589.5 L387.0,595.2Z" fill="#000" fill-opacity="0.09"/><path d="M385.0,609.2 L400.0,603.5 L402.0,589.5 L387.0,595.2Z" fill="url(#gcell)"/><path d="M400.0,603.5 L415.0,597.8 L417.0,583.8 L402.0,589.5Z" fill="#000" fill-opacity="0.14"/><path d="M400.0,603.5 L415.0,597.8 L417.0,583.8 L402.0,589.5Z" fill="url(#gcell)"/><path d="M415.0,597.8 L430.0,592.1 L432.0,578.1 L417.0,583.8Z" fill="#fff" fill-opacity="0.06"/><path d="M415.0,597.8 L430.0,592.1 L432.0,578.1 L417.0,583.8Z" fill="url(#gcell)"/><path d="M430.0,592.1 L445.0,586.4 L447.0,572.4 L432.0,578.1Z" fill="#fff" fill-opacity="0.15"/><path d="M430.0,592.1 L445.0,586.4 L447.0,572.4 L432.0,578.1Z" fill="url(#gcell)"/><path d="M445.0,586.4 L460.0,580.7 L462.0,566.7 L447.0,572.4Z" fill="#000" fill-opacity="0.04"/><path d="M445.0,586.4 L460.0,580.7 L462.0,566.7 L447.0,572.4Z" fill="url(#gcell)"/><path d="M460.0,580.7 L475.0,575.0 L477.0,561.0 L462.0,566.7Z" fill="#000" fill-opacity="0.09"/><path d="M460.0,580.7 L475.0,575.0 L477.0,561.0 L462.0,566.7Z" fill="url(#gcell)"/><path d="M325.0,618.0 L340.0,612.3 L342.0,598.3 L327.0,604.0Z" fill="#000" fill-opacity="0.19"/><path d="M325.0,618.0 L340.0,612.3 L342.0,598.3 L327.0,604.0Z" fill="url(#gcell)"/><path d="M340.0,612.3 L355.0,606.6 L357.0,592.6 L342.0,598.3Z" fill="#fff" fill-opacity="0.06"/><path d="M340.0,612.3 L355.0,606.6 L357.0,592.6 L342.0,598.3Z" fill="url(#gcell)"/><path d="M355.0,606.6 L370.0,600.9 L372.0,586.9 L357.0,592.6Z" fill="#fff" fill-opacity="0.09"/><path d="M355.0,606.6 L370.0,600.9 L372.0,586.9 L357.0,592.6Z" fill="url(#gcell)"/><path d="M370.0,600.9 L385.0,595.2 L387.0,581.2 L372.0,586.9Z" fill="#fff" fill-opacity="0.13"/><path d="M370.0,600.9 L385.0,595.2 L387.0,581.2 L372.0,586.9Z" fill="url(#gcell)"/><path d="M385.0,595.2 L400.0,589.5 L402.0,575.5 L387.0,581.2Z" fill="#000" fill-opacity="0.05"/><path d="M385.0,595.2 L400.0,589.5 L402.0,575.5 L387.0,581.2Z" fill="url(#gcell)"/><path d="M400.0,589.5 L415.0,583.8 L417.0,569.8 L402.0,575.5Z" fill="#000" fill-opacity="0.21"/><path d="M400.0,589.5 L415.0,583.8 L417.0,569.8 L402.0,575.5Z" fill="url(#gcell)"/><path d="M415.0,583.8 L430.0,578.1 L432.0,564.1 L417.0,569.8Z" fill="#000" fill-opacity="0.07"/><path d="M415.0,583.8 L430.0,578.1 L432.0,564.1 L417.0,569.8Z" fill="url(#gcell)"/><path d="M430.0,578.1 L445.0,572.4 L447.0,558.4 L432.0,564.1Z" fill="#fff" fill-opacity="0.17"/><path d="M430.0,578.1 L445.0,572.4 L447.0,558.4 L432.0,564.1Z" fill="url(#gcell)"/><path d="M445.0,572.4 L460.0,566.7 L462.0,552.7 L447.0,558.4Z" fill="#fff" fill-opacity="0.13"/><path d="M445.0,572.4 L460.0,566.7 L462.0,552.7 L447.0,558.4Z" fill="url(#gcell)"/><path d="M460.0,566.7 L475.0,561.0 L477.0,547.0 L462.0,552.7Z" fill="#fff" fill-opacity="0.11"/><path d="M460.0,566.7 L475.0,561.0 L477.0,547.0 L462.0,552.7Z" fill="url(#gcell)"/><path d="M325.0,604.0 L340.0,598.3 L342.0,584.3 L327.0,590.0Z" fill="#000" fill-opacity="0.05"/><path d="M325.0,604.0 L340.0,598.3 L342.0,584.3 L327.0,590.0Z" fill="url(#gcell)"/><path d="M340.0,598.3 L355.0,592.6 L357.0,578.6 L342.0,584.3Z" fill="#000" fill-opacity="0.10"/><path d="M340.0,598.3 L355.0,592.6 L357.0,578.6 L342.0,584.3Z" fill="url(#gcell)"/><path d="M355.0,592.6 L370.0,586.9 L372.0,572.9 L357.0,578.6Z" fill="#fff" fill-opacity="0.08"/><path d="M355.0,592.6 L370.0,586.9 L372.0,572.9 L357.0,578.6Z" fill="url(#gcell)"/><path d="M370.0,586.9 L385.0,581.2 L387.0,567.2 L372.0,572.9Z" fill="#000" fill-opacity="0.11"/><path d="M370.0,586.9 L385.0,581.2 L387.0,567.2 L372.0,572.9Z" fill="url(#gcell)"/><path d="M385.0,581.2 L400.0,575.5 L402.0,561.5 L387.0,567.2Z" fill="#000" fill-opacity="0.20"/><path d="M385.0,581.2 L400.0,575.5 L402.0,561.5 L387.0,567.2Z" fill="url(#gcell)"/><path d="M400.0,575.5 L415.0,569.8 L417.0,555.8 L402.0,561.5Z" fill="#fff" fill-opacity="0.20"/><path d="M400.0,575.5 L415.0,569.8 L417.0,555.8 L402.0,561.5Z" fill="url(#gcell)"/><path d="M415.0,569.8 L430.0,564.1 L432.0,550.1 L417.0,555.8Z" fill="#000" fill-opacity="0.06"/><path d="M415.0,569.8 L430.0,564.1 L432.0,550.1 L417.0,555.8Z" fill="url(#gcell)"/><path d="M430.0,564.1 L445.0,558.4 L447.0,544.4 L432.0,550.1Z" fill="#000" fill-opacity="0.09"/><path d="M430.0,564.1 L445.0,558.4 L447.0,544.4 L432.0,550.1Z" fill="url(#gcell)"/><path d="M445.0,558.4 L460.0,552.7 L462.0,538.7 L447.0,544.4Z" fill="#fff" fill-opacity="0.11"/><path d="M445.0,558.4 L460.0,552.7 L462.0,538.7 L447.0,544.4Z" fill="url(#gcell)"/><path d="M460.0,552.7 L475.0,547.0 L477.0,533.0 L462.0,538.7Z" fill="#000" fill-opacity="0.10"/><path d="M460.0,552.7 L475.0,547.0 L477.0,533.0 L462.0,538.7Z" fill="url(#gcell)"/><path d="M325.0,590.0 L340.0,584.3 L342.0,570.3 L327.0,576.0Z" fill="#fff" fill-opacity="0.06"/><path d="M325.0,590.0 L340.0,584.3 L342.0,570.3 L327.0,576.0Z" fill="url(#gcell)"/><path d="M340.0,584.3 L355.0,578.6 L357.0,564.6 L342.0,570.3Z" fill="#fff" fill-opacity="0.07"/><path d="M340.0,584.3 L355.0,578.6 L357.0,564.6 L342.0,570.3Z" fill="url(#gcell)"/><path d="M355.0,578.6 L370.0,572.9 L372.0,558.9 L357.0,564.6Z" fill="#000" fill-opacity="0.12"/><path d="M355.0,578.6 L370.0,572.9 L372.0,558.9 L357.0,564.6Z" fill="url(#gcell)"/><path d="M370.0,572.9 L385.0,567.2 L387.0,553.2 L372.0,558.9Z" fill="#fff" fill-opacity="0.04"/><path d="M370.0,572.9 L385.0,567.2 L387.0,553.2 L372.0,558.9Z" fill="url(#gcell)"/><path d="M385.0,567.2 L400.0,561.5 L402.0,547.5 L387.0,553.2Z" fill="#fff" fill-opacity="0.12"/><path d="M385.0,567.2 L400.0,561.5 L402.0,547.5 L387.0,553.2Z" fill="url(#gcell)"/><path d="M400.0,561.5 L415.0,555.8 L417.0,541.8 L402.0,547.5Z" fill="#000" fill-opacity="0.21"/><path d="M400.0,561.5 L415.0,555.8 L417.0,541.8 L402.0,547.5Z" fill="url(#gcell)"/><path d="M415.0,555.8 L430.0,550.1 L432.0,536.1 L417.0,541.8Z" fill="#fff" fill-opacity="0.08"/><path d="M415.0,555.8 L430.0,550.1 L432.0,536.1 L417.0,541.8Z" fill="url(#gcell)"/><path d="M430.0,550.1 L445.0,544.4 L447.0,530.4 L432.0,536.1Z" fill="#000" fill-opacity="0.16"/><path d="M430.0,550.1 L445.0,544.4 L447.0,530.4 L432.0,536.1Z" fill="url(#gcell)"/><path d="M445.0,544.4 L460.0,538.7 L462.0,524.7 L447.0,530.4Z" fill="#fff" fill-opacity="0.16"/><path d="M445.0,544.4 L460.0,538.7 L462.0,524.7 L447.0,530.4Z" fill="url(#gcell)"/><path d="M460.0,538.7 L475.0,533.0 L477.0,519.0 L462.0,524.7Z" fill="#000" fill-opacity="0.18"/><path d="M460.0,538.7 L475.0,533.0 L477.0,519.0 L462.0,524.7Z" fill="url(#gcell)"/><path d="M325.0,576.0 L340.0,570.3 L342.0,556.3 L327.0,562.0Z" fill="#fff" fill-opacity="0.09"/><path d="M325.0,576.0 L340.0,570.3 L342.0,556.3 L327.0,562.0Z" fill="url(#gcell)"/><path d="M340.0,570.3 L355.0,564.6 L357.0,550.6 L342.0,556.3Z" fill="#fff" fill-opacity="0.15"/><path d="M340.0,570.3 L355.0,564.6 L357.0,550.6 L342.0,556.3Z" fill="url(#gcell)"/><path d="M355.0,564.6 L370.0,558.9 L372.0,544.9 L357.0,550.6Z" fill="#000" fill-opacity="0.14"/><path d="M355.0,564.6 L370.0,558.9 L372.0,544.9 L357.0,550.6Z" fill="url(#gcell)"/><path d="M370.0,558.9 L385.0,553.2 L387.0,539.2 L372.0,544.9Z" fill="#fff" fill-opacity="0.04"/><path d="M370.0,558.9 L385.0,553.2 L387.0,539.2 L372.0,544.9Z" fill="url(#gcell)"/><path d="M385.0,553.2 L400.0,547.5 L402.0,533.5 L387.0,539.2Z" fill="#fff" fill-opacity="0.14"/><path d="M385.0,553.2 L400.0,547.5 L402.0,533.5 L387.0,539.2Z" fill="url(#gcell)"/><path d="M400.0,547.5 L415.0,541.8 L417.0,527.8 L402.0,533.5Z" fill="#000" fill-opacity="0.08"/><path d="M400.0,547.5 L415.0,541.8 L417.0,527.8 L402.0,533.5Z" fill="url(#gcell)"/><path d="M415.0,541.8 L430.0,536.1 L432.0,522.1 L417.0,527.8Z" fill="#000" fill-opacity="0.04"/><path d="M415.0,541.8 L430.0,536.1 L432.0,522.1 L417.0,527.8Z" fill="url(#gcell)"/><path d="M430.0,536.1 L445.0,530.4 L447.0,516.4 L432.0,522.1Z" fill="#000" fill-opacity="0.09"/><path d="M430.0,536.1 L445.0,530.4 L447.0,516.4 L432.0,522.1Z" fill="url(#gcell)"/><path d="M445.0,530.4 L460.0,524.7 L462.0,510.7 L447.0,516.4Z" fill="#000" fill-opacity="0.05"/><path d="M445.0,530.4 L460.0,524.7 L462.0,510.7 L447.0,516.4Z" fill="url(#gcell)"/><path d="M325.0,562.0 L340.0,556.3 L342.0,542.3 L327.0,548.0Z" fill="#fff" fill-opacity="0.16"/><path d="M325.0,562.0 L340.0,556.3 L342.0,542.3 L327.0,548.0Z" fill="url(#gcell)"/><path d="M340.0,556.3 L355.0,550.6 L357.0,536.6 L342.0,542.3Z" fill="#fff" fill-opacity="0.09"/><path d="M340.0,556.3 L355.0,550.6 L357.0,536.6 L342.0,542.3Z" fill="url(#gcell)"/><path d="M355.0,550.6 L370.0,544.9 L372.0,530.9 L357.0,536.6Z" fill="#000" fill-opacity="0.18"/><path d="M355.0,550.6 L370.0,544.9 L372.0,530.9 L357.0,536.6Z" fill="url(#gcell)"/><path d="M370.0,544.9 L385.0,539.2 L387.0,525.2 L372.0,530.9Z" fill="#000" fill-opacity="0.07"/><path d="M370.0,544.9 L385.0,539.2 L387.0,525.2 L372.0,530.9Z" fill="url(#gcell)"/><path d="M385.0,539.2 L400.0,533.5 L402.0,519.5 L387.0,525.2Z" fill="#fff" fill-opacity="0.19"/><path d="M385.0,539.2 L400.0,533.5 L402.0,519.5 L387.0,525.2Z" fill="url(#gcell)"/><path d="M400.0,533.5 L415.0,527.8 L417.0,513.8 L402.0,519.5Z" fill="#000" fill-opacity="0.22"/><path d="M400.0,533.5 L415.0,527.8 L417.0,513.8 L402.0,519.5Z" fill="url(#gcell)"/><path d="M415.0,527.8 L430.0,522.1 L432.0,508.1 L417.0,513.8Z" fill="#000" fill-opacity="0.11"/><path d="M415.0,527.8 L430.0,522.1 L432.0,508.1 L417.0,513.8Z" fill="url(#gcell)"/><path d="M325.0,548.0 L340.0,542.3 L342.0,528.3 L327.0,534.0Z" fill="#fff" fill-opacity="0.05"/><path d="M325.0,548.0 L340.0,542.3 L342.0,528.3 L327.0,534.0Z" fill="url(#gcell)"/><path d="M340.0,542.3 L355.0,536.6 L357.0,522.6 L342.0,528.3Z" fill="#000" fill-opacity="0.10"/><path d="M340.0,542.3 L355.0,536.6 L357.0,522.6 L342.0,528.3Z" fill="url(#gcell)"/><path d="M355.0,536.6 L370.0,530.9 L372.0,516.9 L357.0,522.6Z" fill="#000" fill-opacity="0.10"/><path d="M355.0,536.6 L370.0,530.9 L372.0,516.9 L357.0,522.6Z" fill="url(#gcell)"/><path d="M370.0,530.9 L385.0,525.2 L387.0,511.2 L372.0,516.9Z" fill="#fff" fill-opacity="0.07"/><path d="M370.0,530.9 L385.0,525.2 L387.0,511.2 L372.0,516.9Z" fill="url(#gcell)"/><path d="M385.0,525.2 L400.0,519.5 L402.0,505.5 L387.0,511.2Z" fill="#fff" fill-opacity="0.11"/><path d="M385.0,525.2 L400.0,519.5 L402.0,505.5 L387.0,511.2Z" fill="url(#gcell)"/><path d="M325.0,534.0 L340.0,528.3 L342.0,514.3 L327.0,520.0Z" fill="#000" fill-opacity="0.05"/><path d="M325.0,534.0 L340.0,528.3 L342.0,514.3 L327.0,520.0Z" fill="url(#gcell)"/><path d="M340.0,528.3 L355.0,522.6 L357.0,508.6 L342.0,514.3Z" fill="#fff" fill-opacity="0.18"/><path d="M340.0,528.3 L355.0,522.6 L357.0,508.6 L342.0,514.3Z" fill="url(#gcell)"/></g>
<path fill="none" stroke="#d2d2d2" stroke-width="13" stroke-opacity="0.9" filter="url(#bl1)" d="M326,620 L331,606 L336,595 L345,586 L358,578 L372,573 L384,568 L396,557 L408,548 L420,538 L440,530 L470,527"/>
<ellipse cx="346" cy="583.5" rx="8" ry="6" fill="#3a3a3a" transform="rotate(-35 346 583.5)" filter="url(#bl1)"/>
<ellipse cx="393.9" cy="552.5" rx="6.5" ry="4.5" fill="#3d3d3d" transform="rotate(-35 393.9 552.5)" filter="url(#bl1)"/>
<ellipse cx="414.8" cy="536.5" rx="10" ry="5" fill="#444" transform="rotate(-30 414.8 536.5)" filter="url(#bl1)"/>
<ellipse cx="381.9" cy="563.5" rx="4" ry="3" fill="#666" transform="rotate(-30 381.9 563.5)" filter="url(#bl1)"/>
<ellipse cx="359.4" cy="607" rx="9" ry="15" fill="#505050" transform="rotate(10 359.4 607)" filter="url(#bl1)"/>
<ellipse cx="384.9" cy="597" rx="8" ry="15" fill="#4a4a4a" transform="rotate(10 384.9 597)" filter="url(#bl1)"/>
<ellipse cx="405.8" cy="576" rx="10" ry="15" fill="#4a4a4a" transform="rotate(10 405.8 576)" filter="url(#bl1)"/>
<ellipse cx="432.8" cy="557" rx="8" ry="13" fill="#505050" transform="rotate(10 432.8 557)" filter="url(#bl1)"/>
<ellipse cx="450.8" cy="546" rx="5" ry="10" fill="#555" transform="rotate(10 450.8 546)" filter="url(#bl1)"/>
<ellipse cx="335" cy="632" rx="8" ry="14" fill="#5a5a5a" transform="rotate(5 335 632)" filter="url(#bl1)"/>
<path fill="#fff" d="M320,520 L418,520 L416.3,528 L402.9,543 L387.9,555 L379.2,562.5 L370.8,564.7 L359.8,568.5 L352.1,574.4 L339.5,583.7 L332.7,592.1 L330.2,602.3 L328,610 L327.3,616 L320,620 Z"/>
<path fill="none" stroke="#222" stroke-width="0.9" d="M327.3,616 L328,610 L330.2,602.3 L332.7,592.1 L339.5,583.7 L352.1,574.4 L359.8,568.5 L370.8,564.7 L379.2,562.5 L387.9,555 L402.9,543 L416.3,528"/>
</g>
<rect x="331" y="536" width="12" height="0.8" fill="#333"/>
<text x="330" y="534.5" font-size="5.5" font-family="Liberation Serif" fill="#333">100 nm</text>
<!-- labels bottom -->
<g font-family="Liberation Sans" font-weight="bold" font-size="13" fill="#222">
  <text x="61" y="518.3" font-size="13.5">(A)</text>
  <text x="332" y="518.3" font-size="13.5">(B)</text>
</g>
<text transform="translate(529.5 545.8) scale(1 1.045)" font-size="33.5" fill="#111">Bright Field</text>
<rect x="796.3" y="524.4" width="165.3" height="49.4" fill="#1e1e1e"/>
<text x="802" y="554.7" font-size="33.1" fill="#fff">Dark Field</text>
<text x="767.2" y="549.8" font-size="16" font-weight="bold" font-family="Liberation Sans" fill="#f0f0f0">(B)</text>
<!-- g icon -->
<rect x="725.2" y="534.9" width="25.2" height="4.9" fill="#eee"/>
<rect x="729" y="536.9" width="20" height="1" fill="#222"/>
<path d="M726.5,537.4 l3.5,-1.9 l0,3.8 z" fill="#222"/>
<rect x="737.1" y="541.1" width="9.9" height="11" fill="#f2f2f2"/>
<text x="738.6" y="549.6" font-size="12" fill="#111">g</text>
<!-- 500 nm -->
<rect x="513" y="727.8" width="39.6" height="14.2" fill="#fff"/>
<text x="514.3" y="736.9" font-size="11.6" fill="#222">500 nm</text>
<rect x="517.6" y="739.4" width="31.2" height="1.1" fill="#333"/>
<!-- page number -->
<text x="847.8" y="736.8" font-size="15.5" fill="#b0b0b0">13</text>
</svg>

<div class="t title" style="left:313px;top:45.5px;transform:scaleX(0.974);transform-origin:0 0;">(II) Thickness Fringes</div>

<div class="t" style="left:74px;top:334px;font-style:italic;font-size:23.5px;color:#2c4896;-webkit-text-stroke:0.45px #2c4896;">Wedge Shape</div>

<div style="position:absolute;left:63.9px;top:376.9px;width:7px;height:7px;border-radius:50%;background:#000;"></div>
<div class="t cjk" style="left:74px;top:367px;">在運動學的範圍內有吸</div>
<div class="t cjk" style="left:74px;top:397px;">收的因素，明場與暗場</div>
<div class="t cjk" style="left:74px;top:427px;">之強度沒直接的關係</div>

<div style="position:absolute;left:456px;top:396px;width:7px;height:7px;border-radius:50%;background:#000;"></div>
<div class="t cjk" style="left:472px;top:385px;">明場與暗場像是</div>
<div class="t cjk" style="left:472px;top:417px;">運動學的範圍才</div>
<div class="t cjk" style="left:472px;top:449px;">可能是互補</div>


</body>
</html>
